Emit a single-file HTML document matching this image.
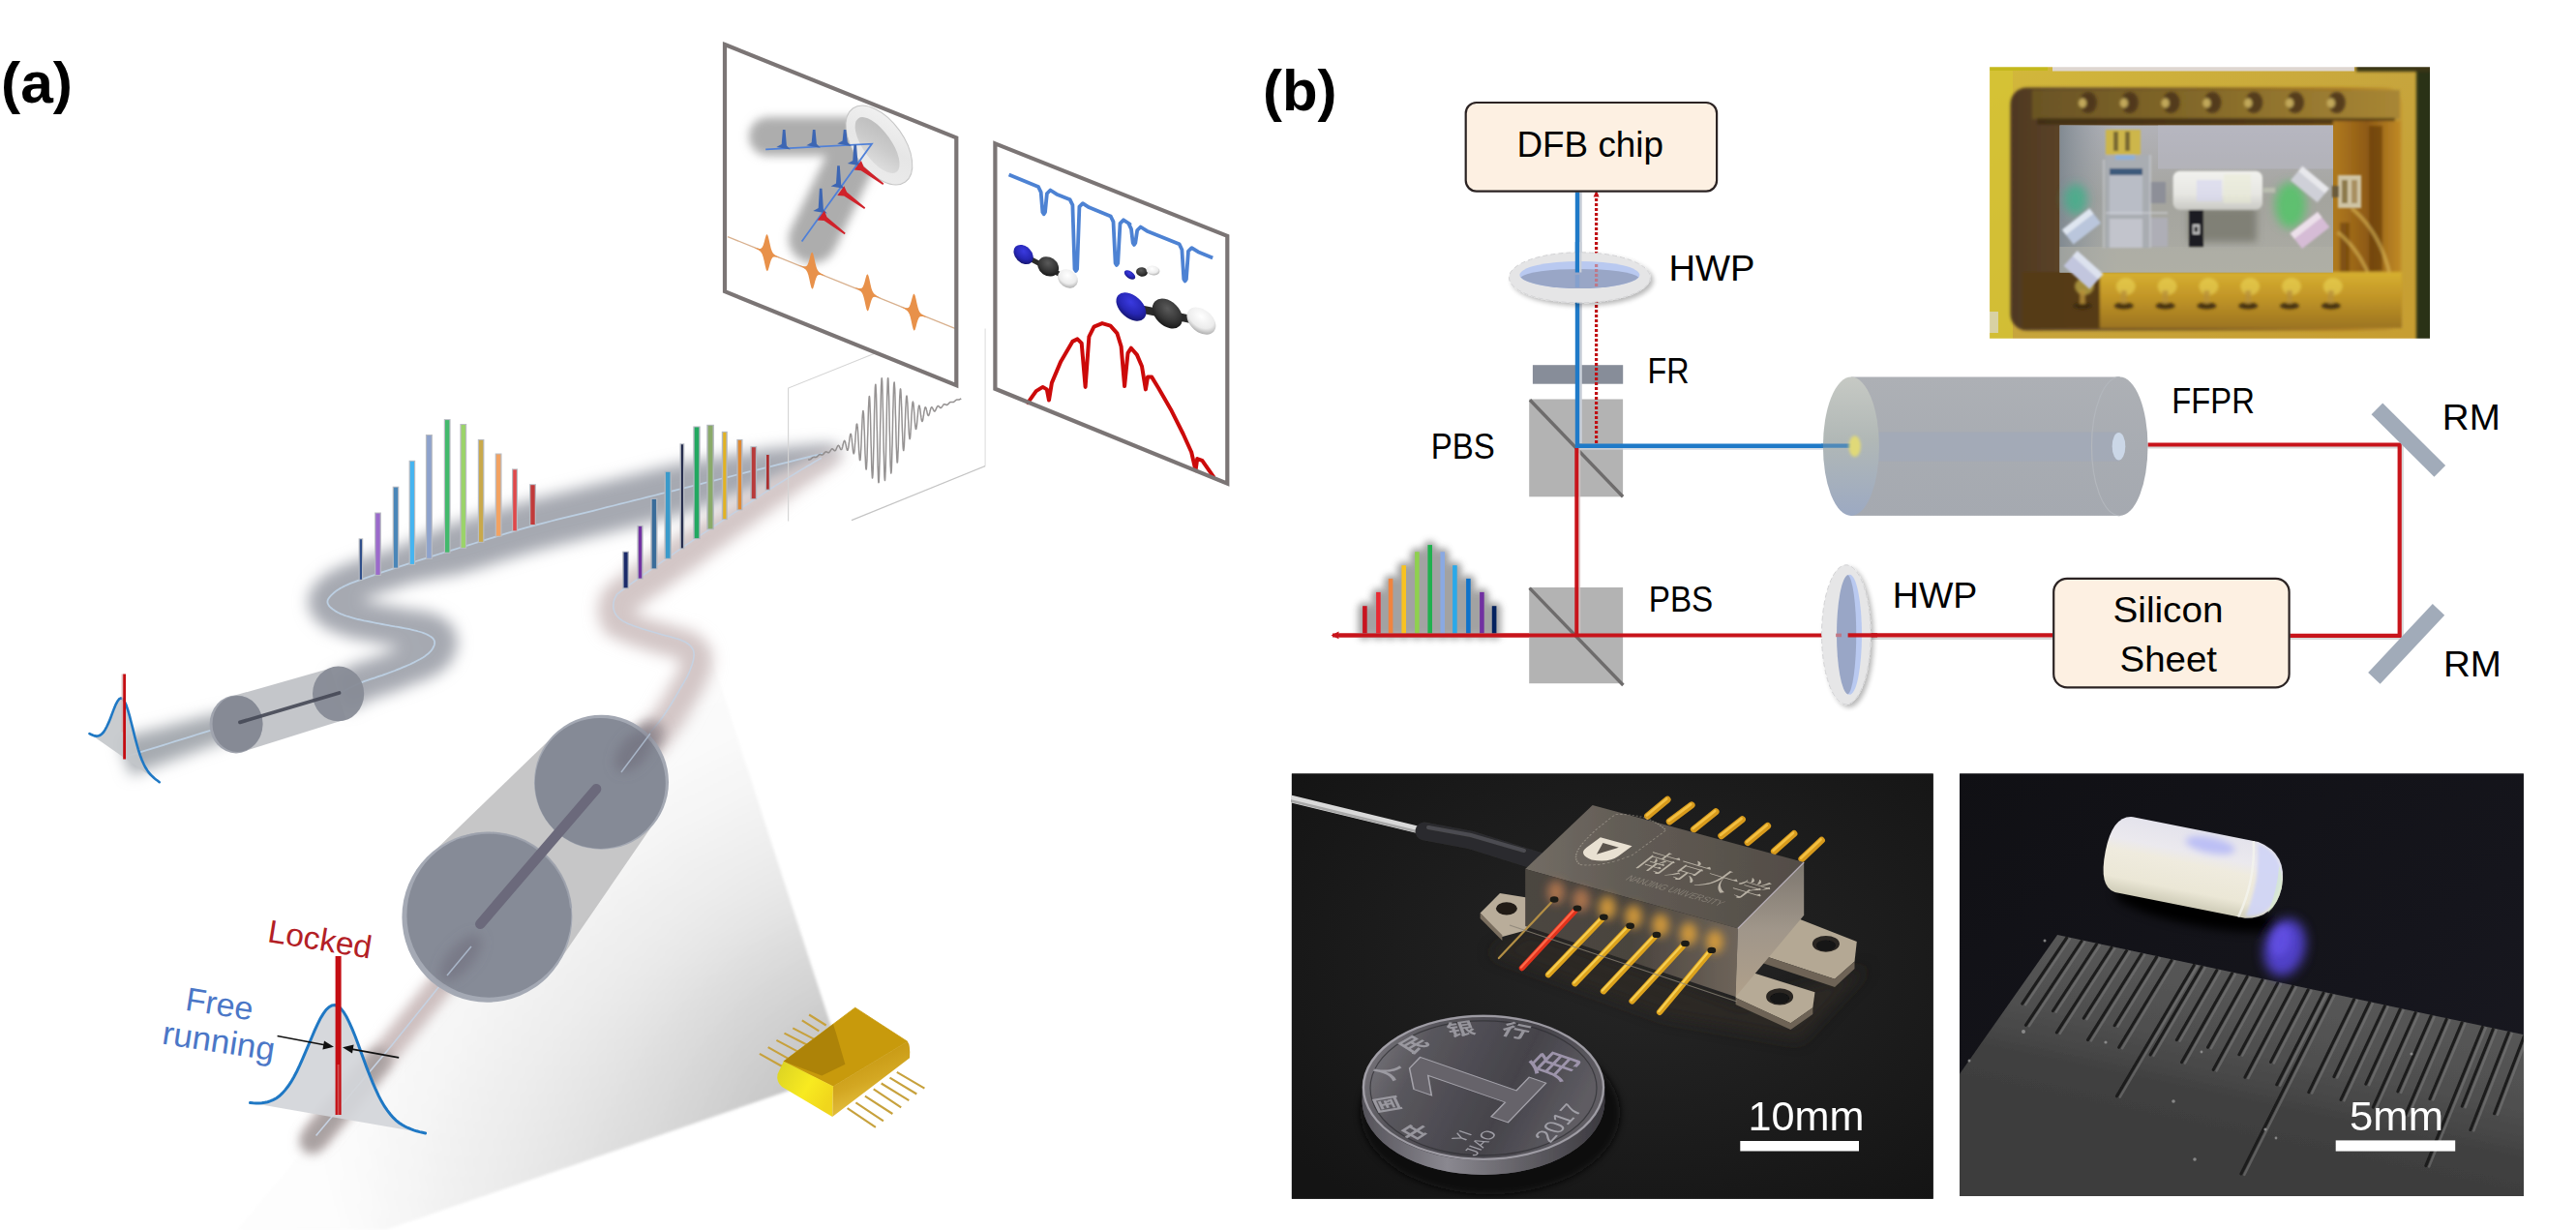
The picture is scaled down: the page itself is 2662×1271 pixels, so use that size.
<!DOCTYPE html>
<html lang="en"><head><meta charset="utf-8"><title>Figure</title>
<style>html,body{margin:0;padding:0;background:#fff;overflow:hidden}svg{display:block}text{white-space:pre}</style>
</head><body>
<svg width="2662" height="1271" viewBox="0 0 2662 1271">
<defs>
<radialGradient id="coneG" gradientUnits="userSpaceOnUse" cx="880" cy="1085" r="560"><stop offset="0" stop-color="#c0c0c0"/><stop offset="0.2" stop-color="#c9c9c9"/><stop offset="0.4" stop-color="#d7d7d7"/><stop offset="0.6" stop-color="#e3e3e3"/><stop offset="0.8" stop-color="#efefef"/><stop offset="1" stop-color="#fcfcfc"/></radialGradient>
<linearGradient id="coneW" gradientUnits="userSpaceOnUse" x1="640" y1="820" x2="800" y2="1140"><stop offset="0" stop-color="#fff" stop-opacity="0.8"/><stop offset="0.5" stop-color="#fff" stop-opacity="0.45"/><stop offset="1" stop-color="#fff" stop-opacity="0"/></linearGradient>
<linearGradient id="chipL" x1="0" y1="0" x2="1" y2="0.6"><stop offset="0" stop-color="#d9d224"/><stop offset="0.6" stop-color="#f8ea20"/><stop offset="1" stop-color="#f0d61c"/></linearGradient>
<linearGradient id="chipR" x1="0.3" y1="0" x2="0.7" y2="1"><stop offset="0" stop-color="#c0900a"/><stop offset="0.5" stop-color="#d3a722"/><stop offset="1" stop-color="#f0d050"/></linearGradient>
<linearGradient id="torG" x1="0" y1="0" x2="1" y2="1"><stop offset="0" stop-color="#f4f4f4"/><stop offset="0.5" stop-color="#e6e6e6"/><stop offset="1" stop-color="#ededed"/></linearGradient>
<linearGradient id="torI" x1="0" y1="0" x2="1" y2="1"><stop offset="0" stop-color="#bababa"/><stop offset="0.5" stop-color="#cbcbcb"/><stop offset="1" stop-color="#e4e4e4"/></linearGradient>
<radialGradient id="mB" cx="0.4" cy="0.35" r="0.7"><stop offset="0" stop-color="#3a3adf"/><stop offset="0.6" stop-color="#2626b4"/><stop offset="1" stop-color="#14146c"/></radialGradient>
<radialGradient id="mK" cx="0.4" cy="0.35" r="0.7"><stop offset="0" stop-color="#5a5a5a"/><stop offset="0.6" stop-color="#363636"/><stop offset="1" stop-color="#161616"/></radialGradient>
<radialGradient id="mW" cx="0.4" cy="0.35" r="0.75"><stop offset="0" stop-color="#ffffff"/><stop offset="0.6" stop-color="#ececec"/><stop offset="1" stop-color="#9c9c9c"/></radialGradient>
<linearGradient id="ffB" x1="0" y1="0" x2="0" y2="1"><stop offset="0" stop-color="#adb0b5"/><stop offset="0.5" stop-color="#a8acb2"/><stop offset="1" stop-color="#a5a9b0"/></linearGradient>
<linearGradient id="ffL" x1="0" y1="0" x2="0" y2="1"><stop offset="0" stop-color="#c6c9c4"/><stop offset="0.45" stop-color="#b1b8b6"/><stop offset="1" stop-color="#9ca9c2"/></linearGradient>
<filter id="ds" x="-0.2" y="-0.3" width="1.4" height="1.7"><feGaussianBlur in="SourceAlpha" stdDeviation="2.5" result="b"/><feOffset in="b" dx="2.5" dy="3" result="o"/><feComponentTransfer in="o" result="s"><feFuncA type="linear" slope="0.28"/></feComponentTransfer><feMerge><feMergeNode in="s"/><feMergeNode in="SourceGraphic"/></feMerge></filter>
<filter id="bl13" x="-0.1" y="-0.1" width="1.2" height="1.2"><feGaussianBlur stdDeviation="1.2"/></filter><filter id="bl1" x="-0.1" y="-0.1" width="1.2" height="1.2"><feGaussianBlur stdDeviation="0.7"/></filter><filter id="bl2" x="-0.2" y="-0.2" width="1.4" height="1.4"><feGaussianBlur stdDeviation="1.6"/></filter><filter id="bl4" x="-0.4" y="-0.4" width="1.8" height="1.8"><feGaussianBlur stdDeviation="3.5"/></filter><filter id="bl5" x="-0.5" y="-0.5" width="2.0" height="2.0"><feGaussianBlur stdDeviation="5"/></filter><filter id="bl6" x="-0.5" y="-0.5" width="2.0" height="2.0"><feGaussianBlur stdDeviation="6"/></filter><filter id="bl7" x="-0.5" y="-0.5" width="2.0" height="2.0"><feGaussianBlur stdDeviation="7.5"/></filter>
<linearGradient id="pgOuter" x1="0" y1="0" x2="1" y2="1"><stop offset="0" stop-color="#d3b93a"/><stop offset="0.5" stop-color="#c7a53c"/><stop offset="1" stop-color="#c79d30"/></linearGradient>
<linearGradient id="pgCav" x1="0" y1="0" x2="1" y2="0"><stop offset="0" stop-color="#4e3820"/><stop offset="0.12" stop-color="#5a4228"/><stop offset="0.5" stop-color="#7a5a24"/><stop offset="0.85" stop-color="#a87822"/><stop offset="1" stop-color="#c49a34"/></linearGradient>
<linearGradient id="pgTop" x1="0" y1="0" x2="1" y2="0"><stop offset="0" stop-color="#6a5424"/><stop offset="0.4" stop-color="#806628"/><stop offset="1" stop-color="#a88634"/></linearGradient>
<linearGradient id="pgRight" x1="0" y1="0" x2="1" y2="0"><stop offset="0" stop-color="#b07a20"/><stop offset="0.5" stop-color="#8e5a14"/><stop offset="1" stop-color="#c08a26"/></linearGradient>
<linearGradient id="pgBot" x1="0" y1="0" x2="0" y2="1"><stop offset="0" stop-color="#d6b030"/><stop offset="0.4" stop-color="#c49828"/><stop offset="1" stop-color="#9c7420"/></linearGradient>
<linearGradient id="pgPlat" x1="0" y1="0" x2="0" y2="1"><stop offset="0" stop-color="#b2b2b8"/><stop offset="0.5" stop-color="#a4a49e"/><stop offset="1" stop-color="#acaca4"/></linearGradient>
<linearGradient id="pgPlatL" x1="0" y1="0" x2="1" y2="0"><stop offset="0" stop-color="#7f8890" stop-opacity="0.95"/><stop offset="1" stop-color="#98a0a8" stop-opacity="0"/></linearGradient>
<linearGradient id="pgCyl" x1="0" y1="0" x2="0" y2="1"><stop offset="0" stop-color="#f2f2ee"/><stop offset="0.6" stop-color="#e6e6e2"/><stop offset="1" stop-color="#c9c9c4"/></linearGradient>

<radialGradient id="pbBg" cx="0.55" cy="0.45" r="0.7"><stop offset="0" stop-color="#262626"/><stop offset="1" stop-color="#141414"/></radialGradient>
<linearGradient id="pbTop" x1="0" y1="0" x2="1" y2="0"><stop offset="0" stop-color="#736d65"/><stop offset="0.35" stop-color="#625c55"/><stop offset="1" stop-color="#524c46"/></linearGradient>
<linearGradient id="pbFront" x1="0" y1="0" x2="1" y2="0"><stop offset="0" stop-color="#4c4640"/><stop offset="0.5" stop-color="#4a443e"/><stop offset="1" stop-color="#6e645a"/></linearGradient>
<linearGradient id="pbRight" x1="0" y1="0" x2="0" y2="1"><stop offset="0" stop-color="#7c766e"/><stop offset="0.5" stop-color="#a0968a"/><stop offset="1" stop-color="#b0a08a"/></linearGradient>
<linearGradient id="pbCoin" x1="0" y1="0" x2="1" y2="0.3"><stop offset="0" stop-color="#828086"/><stop offset="0.3" stop-color="#58565c"/><stop offset="0.7" stop-color="#45434a"/><stop offset="1" stop-color="#5e5c62"/></linearGradient>
<linearGradient id="pbEdge" x1="0" y1="0" x2="1" y2="0"><stop offset="0" stop-color="#55535a"/><stop offset="0.35" stop-color="#8a8890"/><stop offset="0.6" stop-color="#6a686e"/><stop offset="1" stop-color="#3a383e"/></linearGradient>

<linearGradient id="pcBg" x1="0" y1="0" x2="1" y2="1"><stop offset="0" stop-color="#101014"/><stop offset="0.6" stop-color="#15151c"/><stop offset="1" stop-color="#1a1a22"/></linearGradient>
<linearGradient id="pcRul" gradientUnits="userSpaceOnUse" x1="2330" y1="1000" x2="2290" y2="1190"><stop offset="0" stop-color="#575757"/><stop offset="0.45" stop-color="#4f4f4f"/><stop offset="0.7" stop-color="#414141"/><stop offset="1" stop-color="#3c3c3c"/></linearGradient>
<linearGradient id="pcCap" x1="0" y1="0" x2="0" y2="1"><stop offset="0" stop-color="#e4e3ec"/><stop offset="0.3" stop-color="#ebe9ee"/><stop offset="0.45" stop-color="#efebde"/><stop offset="0.8" stop-color="#ebe7d6"/><stop offset="1" stop-color="#cfccb8"/></linearGradient>
</defs>
<rect width="2662" height="1271" fill="#fff"/>
<g filter="url(#bl2)"><polygon points="731.6,670.8 862,1070 866,1100 813.7,1127.5 398,1271 245,1271 326.6,1173.6 503.4,947.7 621.5,808.2 677,751 705,708 717,682" fill="url(#coneG)"/><polygon points="731.6,670.8 862,1070 866,1100 813.7,1127.5 398,1271 245,1271 326.6,1173.6 503.4,947.7 621.5,808.2 677,751 705,708 717,682" fill="url(#coneW)"/></g>
<g filter="url(#bl7)"><polygon points="867.9,463.5 866.3,461.9 864.6,461.1 862.8,460.4 860.7,460 858.5,459.6 856.2,459.3 854,459.2 851.7,459 849.6,459 847.5,458.9 845.9,459.1 844.6,459.2 843.6,459.3 842.6,459.4 841.5,459.5 840.2,459.6 838.4,459.8 835.9,460 832.7,460.3 828.6,460.7 823.4,461.1 817.2,461.7 810.3,462.3 802.7,463 794.7,463.8 786.6,465.1 778.4,466.5 770.3,467.8 762.4,469.2 754.9,470.4 747.7,471.6 740.5,472.9 733.3,474.1 726.2,475.3 719.1,476.5 712,477.7 704.8,478.9 697.7,480.1 690.7,481.5 683.7,483.3 676.7,485 669.7,486.8 662.7,488.5 655.8,490.3 648.8,492 641.8,493.7 634.8,495.5 627.8,497.3 620.7,499 613.7,500.8 606.6,502.5 599.4,504.3 592.1,506.1 584.8,507.9 577.5,509.7 570.2,511.5 562.9,513.3 555.8,515.2 548.8,517 542,518.8 535.4,520.6 529.1,522.4 522.9,524.2 516.9,526 511.1,527.8 505.4,529.6 499.7,531.3 494,533.1 488.2,534.8 482.4,536.6 476.5,538.4 470.5,540.3 464.4,542.1 458.5,544.4 452.6,547 446.7,549.5 440.9,552.1 435.1,554.7 429.3,557.2 423.6,559.8 417.8,562.4 411.8,564.8 405.5,566.9 399.2,568.9 393.1,570.9 387,572.9 381.3,574.8 375.9,576.7 370.9,578.4 366.4,580 362.6,581.4 359.2,582.6 356.2,583.8 353.4,584.9 350.8,586 348.3,587.1 345.9,588.3 343.6,589.5 341.4,590.8 339.2,592.2 336.9,593.7 334.7,595.3 332.4,597 330.3,598.9 328.1,600.9 326.1,603.2 324,605.7 322,608.8 320.2,612.6 318.8,617.5 318.5,623 319.3,628.3 320.9,632.7 322.9,636.3 325,639.1 327.1,641.4 329.2,643.3 331.2,644.9 333.1,646.4 335,647.7 337.2,649.1 339.6,650.4 341.9,651.6 344.3,652.6 346.7,653.6 349.1,654.6 351.6,655.4 354.2,656.3 356.8,657.1 359.5,657.9 362.5,658.7 365.6,659.4 368.8,660.2 372,660.8 375.2,661.5 378.5,662.2 381.8,662.8 385,663.4 388.1,664 391.2,664.6 394.4,665.3 397.8,665.9 401.2,666.5 404.5,667.1 407.8,667.6 411,668.2 413.9,668.7 416.7,669.3 419.1,670.2 421.2,671 423.1,671.7 425,672.5 426.6,673.2 428,673.8 429.2,674.4 430.1,674.9 430.9,675.4 431.4,675.8 431.7,676.1 431.9,676.3 432,676.6 432,676.7 431.6,676.6 431,676.1 430,675.3 428.8,673.9 427.6,671.9 426.6,669.4 425.9,666.7 425.7,664 425.9,661.8 426.2,660.2 426.6,659.1 426.9,658.4 427.2,658 427.4,657.8 427.5,657.8 427.6,657.9 427.6,658 427.6,658.2 427.4,658.6 427,659.1 426.4,659.7 425.6,660.5 424.5,661.4 423.3,662.4 421.9,663.4 420.3,664.5 418.6,665.6 416.9,666.8 415.1,667.9 413.1,669.1 410.9,670.2 408.5,671.2 406,672.2 403.4,673.3 400.8,674.3 398.1,675.3 395.5,676.3 393,677.3 390.7,678.1 388.5,678.9 386.2,679.6 383.8,680.4 381.3,681.2 378.7,682.1 376,683 373.2,684 370.3,685 367.3,686.2 364.3,687.5 361.2,689 358,690.4 354.9,691.9 351.9,693.4 349,694.8 346.4,696.2 344.1,697.3 342.2,698.2 340.8,698.9 358.4,734.9 360,734.1 362,733.1 364.3,731.9 366.9,730.6 369.6,729.3 372.4,727.9 375.2,726.5 377.9,725.3 380.4,724.1 382.7,723.2 384.7,722.4 386.8,721.6 389,720.8 391.3,720 393.6,719.3 396.1,718.5 398.7,717.6 401.4,716.7 404.2,715.8 407,714.7 409.7,713.7 412.4,712.7 415.2,711.6 418,710.5 420.9,709.4 423.7,708.2 426.6,707 429.4,706 432.2,705 434.9,704 437.4,703.1 439.8,702.2 442.2,701.2 444.5,700.1 446.9,699 449.2,697.9 451.5,696.6 453.8,695.1 456.1,693.6 458.4,691.8 460.6,689.8 462.7,687.7 464.6,685.5 466.3,683.1 467.9,680.6 469.4,677.9 470.6,675 471.7,671.8 472.4,668.1 472.7,664 472.3,659.5 471.3,655 469.6,651 467.4,647.5 465.1,644.6 462.7,642.3 460.5,640.4 458.3,638.9 456.2,637.7 454.1,636.7 451.9,635.6 449.6,634.7 447.4,633.9 445.1,633.3 442.8,632.7 440.5,632.2 438.2,631.8 435.8,631.4 433.3,631 430.6,630.6 427.7,630.3 424.5,630 421.3,629.4 418,628.8 414.7,628.2 411.4,627.7 408.1,627.1 404.9,626.5 401.8,626 398.8,625.4 395.7,624.8 392.5,624.1 389.4,623.5 386.2,622.9 383.2,622.3 380.2,621.7 377.4,621.1 374.8,620.5 372.5,619.9 370.3,619.3 368.3,618.7 366.3,618.1 364.5,617.5 362.8,617 361.4,616.4 360.1,615.9 359,615.4 358.2,615 357.5,614.6 357,614.3 356.3,613.8 355.8,613.4 355.5,613.2 355.4,613.1 355.7,613.4 356.3,614.2 357.1,615.7 357.9,618 358.4,621.2 358.2,624.5 357.5,627.1 356.8,628.6 356.4,629.2 356.3,629.4 356.5,629.1 357,628.6 357.7,628 358.6,627.3 359.7,626.6 360.8,625.8 362,625.1 363.1,624.4 364.2,623.9 365.3,623.3 366.7,622.7 368.5,621.9 370.6,621.1 373.2,620.1 376.4,618.9 380,617.6 384.1,616.1 388.8,614.5 394.1,612.7 399.7,610.9 405.5,608.9 411.6,606.9 417.8,604.9 424,602.9 430.3,601.4 436.4,600.2 442.5,599 448.6,597.9 454.7,596.7 460.9,595.5 467.1,594.4 473.4,593.2 479.6,591.8 485.6,590 491.6,588.2 497.6,586.4 503.5,584.6 509.3,582.8 515,581 520.7,579.3 526.3,577.5 531.9,575.8 537.7,574.1 543.5,572.4 549.5,570.7 555.6,569 562.1,567.3 568.8,565.5 575.7,563.7 582.7,562 589.9,560.2 597.2,558.4 604.5,556.6 611.8,554.8 619.1,553 626.3,551.2 633.4,549.5 640.4,547.7 647.4,545.9 654.4,544.2 661.4,542.4 668.4,540.7 675.3,539 682.3,537.2 689.3,535.5 696.3,533.7 703.3,532 710.2,529.9 717,527.6 723.9,525.3 730.7,523.1 737.6,520.8 744.4,518.5 751.3,516.2 758.2,513.9 765.1,511.6 772.3,509.2 779.9,506.7 787.7,504.1 795.6,501.4 803.4,498.8 810.9,495.8 817.9,492.9 824.3,490.2 830,487.8 834.8,485.7 838.7,484.1 841.6,482.9 843.9,481.9 845.6,481.2 846.9,480.7 847.9,480.2 848.8,479.8 849.8,479.4 850.9,478.9 852.5,478.3 854.2,477.3 856.1,476.2 858,475 859.9,473.7 861.8,472.4 863.5,471 865.1,469.6 866.5,468.2 867.5,466.6 868.1,464.5" fill="#a6a9b1"/></g>
<g filter="url(#bl7)"><polygon points="240.9,734.7 239.1,735.1 236.8,735.4 234,735.9 230.8,736.4 227.1,737.1 223.1,737.9 218.8,738.8 214.3,739.8 209.5,740.9 204.3,742.2 198.8,743.6 193.1,745.1 187.2,746.7 181.4,748.2 175.5,749.7 169.8,751.2 163.8,752.7 157.3,754.3 150.5,756 143.8,757.7 137.4,759.3 131.6,760.8 126.8,762 123.2,762.9 134.8,801.1 138.3,799.9 143,798.2 148.6,796.2 154.8,794 161.3,791.6 167.9,789.2 174.3,786.9 180.2,784.8 185.8,782.7 191.6,780.6 197.3,778.5 203,776.4 208.4,774.4 213.6,772.5 218.4,770.7 222.7,769.2 226.6,767.9 230.3,766.8 233.9,765.7 237.2,764.8 240.2,763.9 242.8,763.2 245.2,762.6 247.1,762.1" fill="#a6aab0"/></g>
<g filter="url(#bl7)" transform="translate(3,5)"><polygon points="867.8,463.5 866.2,462.7 864.7,462.4 863,462.3 861.1,462.3 859.1,462.5 856.7,462.8 854.1,463.3 851.3,464 848.2,464.9 844.8,466.1 841.3,467.8 837.3,469.6 833,471.7 828.4,473.9 823.6,476.3 818.7,478.7 813.8,481.2 808.9,483.7 804.1,486.1 799.4,488.5 794.9,490.8 790.6,493.2 786.4,495.6 782.3,498 778.1,500.5 773.8,503 769.4,505.6 764.8,508.3 760.1,511.1 755,514.1 749.6,517.3 744,520.7 738.1,524.2 732,527.8 725.8,531.5 719.5,535.3 713.2,539.1 706.8,543 700.2,546.3 694.2,550.4 688.1,554.6 681.7,559 675.1,563.7 668.4,568.3 661.8,573 655.5,577.5 649.6,581.7 644.1,585.6 639.3,589.1 635.4,592 632.3,594.2 630,596 628.1,597.3 626.5,598.6 624.7,600.2 622.4,602.7 620.4,605.8 619.6,607.4 619.5,607.6 619.1,608.3 618.1,610.3 617.1,612.9 616.2,615.5 615.6,618 615.2,620.5 614.9,623 614.8,625.4 614.9,627.8 615.1,630.3 615.4,632.7 615.9,635.2 616.7,637.6 617.6,639.9 618.6,642.2 619.9,644.4 621.2,646.4 622.7,648.3 624.2,650.1 625.8,651.8 627.6,653.4 629.4,654.8 632.9,653.7 634.7,654.9 636.5,656 638.3,657 640.1,657.9 642,658.7 643.9,659.6 645.8,660.4 647.9,661.2 650.2,662.1 652.7,663 655.2,663.8 657.8,664.6 660.5,665.5 663.2,666.3 665.8,667.1 668.4,667.8 670.9,668.6 673.5,669.3 676.1,670.1 678.8,670.9 681.6,671.6 684.3,672.4 686.9,673.1 689.4,673.7 691.7,674.4 693.7,675 695.5,675.5 696.9,676 698.2,676.5 699.3,677 700.1,677.3 700.7,677.6 701,677.8 701.2,677.9 701.3,678 701.4,678 701.5,678.1 701.7,678.4 702,678.6 702,678.7 702,678.6 701.9,678.4 701.6,678 701.4,677.6 701.3,677.1 701.2,676.7 701.1,676.4 701.1,676.3 701.1,676.4 701.1,676.7 701,677.2 700.9,677.9 700.7,678.7 700.5,679.7 700.2,680.8 699.9,681.9 699.5,683.1 699,684.5 698.5,685.9 698,687.2 697.5,688.2 697.1,689.2 696.6,690.3 696,691.5 695.2,693 694.2,694.8 692.9,697 691.3,699.8 689.3,703.2 687.2,706.8 685,710.6 682.7,714.6 680.3,718.7 677.6,722.9 674.8,727.2 671.7,731.6 668.3,736.1 664.7,740.6 660.4,745.6 655.1,751.4 649.1,757.8 642.7,764.3 636.1,771 629.7,777.4 623.7,783.4 618.2,788.8 613.6,793.4 610.1,797 632.9,819.4 636.3,816 640.8,811.5 646.2,806.1 652.3,800 658.9,793.5 665.5,786.7 672.2,779.9 678.5,773.3 684.2,767 689.3,761.2 693.7,755.7 697.6,750.4 701.3,745.2 704.6,740.1 707.6,735.3 710.3,730.8 712.7,726.6 714.9,722.7 716.9,719.3 718.7,716.2 720.5,713.3 722,710.7 723.3,708.3 724.5,706.2 725.5,704.2 726.4,702.2 727.1,700.5 727.8,698.8 728.4,697.2 729,695.5 729.7,693.6 730.4,691.7 731,689.7 731.5,687.7 732,685.7 732.4,683.6 732.7,681.6 733,679.4 733.1,677.2 733.1,674.9 732.9,672.6 732.5,670.2 731.9,667.9 731.1,665.7 730.2,663.5 729.1,661.5 727.9,659.8 726.7,658.2 725.5,656.9 724.3,655.6 723,654.5 721.7,653.3 720.2,652.1 718.6,651 716.9,650 715.2,649.1 713.5,648.3 711.7,647.5 709.9,646.7 707.9,646 705.6,645.2 703.1,644.4 700.5,643.6 697.9,642.9 695.2,642.2 692.6,641.4 689.9,640.7 687.4,640 684.9,639.4 682.5,638.7 680.1,637.9 677.5,637.2 674.9,636.4 672.4,635.6 669.9,634.9 667.5,634.1 665.2,633.4 663.1,632.7 661.2,632 659.5,631.4 657.9,630.8 656.4,630.1 655.1,629.6 654,629.1 653.1,628.6 652.3,628.2 651.7,627.8 651.2,627.5 652.7,624.8 652.4,624.6 652.3,624.5 652.2,624.4 652.2,624.4 652.2,624.4 652.3,624.6 652.4,624.8 652.5,625 652.6,625.3 652.7,625.6 652.8,625.9 652.8,626.1 652.8,626.1 652.8,626 652.8,625.9 652.8,625.8 652.9,625.7 652.9,625.7 652.8,625.8 652.7,626 652.9,625.7 653.5,624.5 654,623.4 653.7,624 652.2,626.2 650.8,627.8 650.5,628.1 651.1,627.6 652.6,626.5 654.8,624.8 657.8,622.6 661.7,619.8 666.3,616.4 671.7,612.6 677.5,608.4 683.8,604 690.3,599.4 696.9,594.8 703.4,590.2 709.8,585.8 715.8,581.6 721.6,577.6 727,572.7 732.9,568.3 738.7,563.9 744.6,559.6 750.3,555.3 756,551.1 761.5,547.1 766.8,543.2 771.8,539.5 776.5,536 781,532.7 785.3,529.5 789.3,526.5 793.3,523.7 797.1,520.8 801,518.1 804.8,515.3 808.7,512.5 812.6,509.5 816.7,506.4 821,503.2 825.3,500 829.7,496.8 834.1,493.6 838.3,490.5 842.4,487.6 846.2,484.9 849.7,482.4 852.8,480.3 855.4,478.3 857.6,476.3 859.7,474.6 861.5,473 863.1,471.5 864.5,470.2 865.8,468.9 866.9,467.6 867.7,466.2 868.2,464.5" fill="#d3c6c6"/></g>
<g filter="url(#bl6)"><path d="M503.4 947.7 L485.5 980 L405 1080 L326.6 1173.6" stroke="#cdbfbf" stroke-width="26" fill="none" stroke-linecap="round"/></g>
<g filter="url(#bl6)"><path d="M392 1095 L322 1180" stroke="#a8a0a0" stroke-width="24" fill="none" stroke-linecap="round"/></g>
<path d="M850 468.6 L848.4 469 L847.2 469.3 L846.2 469.6 L845.3 469.8 L844.2 470.1 L842.9 470.4 L841.1 470.8 L838.8 471.4 L835.7 472.2 L831.7 473.2 L826.7 474.4 L820.8 475.9 L814.1 477.6 L806.8 479.4 L799.1 481.3 L791.1 483.3 L783.1 485.3 L775.1 487.2 L767.3 489.2 L760 491 L752.9 492.8 L745.9 494.5 L738.9 496.3 L731.9 498 L724.9 499.8 L717.9 501.5 L710.9 503.3 L704 505 L697 506.8 L690 508.5 L683 510.2 L676 512 L669 513.7 L662.1 515.5 L655.1 517.2 L648.1 519 L641.1 520.7 L634.1 522.5 L627 524.2 L620 526 L612.9 527.8 L605.6 529.6 L598.3 531.4 L591 533.1 L583.7 534.9 L576.4 536.7 L569.3 538.5 L562.3 540.3 L555.4 542.1 L548.8 543.9 L542.4 545.7 L536.3 547.4 L530.3 549.2 L524.4 550.9 L518.7 552.7 L513 554.4 L507.3 556.2 L501.6 557.9 L495.9 559.7 L490 561.5 L484 563.3 L478 565.1 L472 567 L465.9 568.8 L459.9 570.7 L453.8 572.5 L447.8 574.4 L441.8 576.3 L435.9 578.1 L430 580 L424 581.9 L417.9 583.9 L411.7 585.9 L405.4 587.9 L399.3 589.9 L393.3 591.9 L387.7 593.8 L382.4 595.6 L377.5 597.3 L373.2 598.8 L369.5 600.2 L366.2 601.4 L363.4 602.4 L360.9 603.4 L358.8 604.3 L356.8 605.2 L355 606.1 L353.4 607 L351.7 607.9 L350 609 L348.3 610.1 L346.6 611.3 L345.1 612.5 L343.6 613.8 L342.3 615 L341.2 616.3 L340.2 617.5 L339.4 618.7 L338.8 619.9 L338.5 621 L338.4 622.1 L338.6 623.2 L339 624.2 L339.6 625.3 L340.3 626.3 L341.3 627.3 L342.3 628.2 L343.5 629.2 L344.7 630.1 L346 631 L347.4 631.9 L348.9 632.7 L350.5 633.5 L352.2 634.3 L354 635 L356 635.8 L358 636.5 L360.2 637.2 L362.5 637.9 L364.9 638.6 L367.5 639.3 L370.2 640 L373.1 640.6 L376.1 641.3 L379.2 641.9 L382.4 642.5 L385.6 643.2 L388.7 643.8 L391.9 644.4 L395 645 L398.1 645.6 L401.3 646.2 L404.6 646.8 L408 647.4 L411.3 647.9 L414.5 648.5 L417.6 649.1 L420.6 649.7 L423.4 650.2 L425.9 650.8 L428.2 651.4 L430.4 651.9 L432.4 652.5 L434.3 653 L436 653.5 L437.6 654.1 L439.1 654.7 L440.5 655.2 L441.8 655.9 L443 656.5 L444.1 657.2 L445.1 657.8 L446.1 658.5 L446.9 659.2 L447.6 659.9 L448.1 660.7 L448.6 661.4 L448.9 662.2 L449.1 663.1 L449.2 664 L449.1 665 L448.9 666 L448.6 667.1 L448.1 668.2 L447.6 669.3 L446.9 670.5 L446.1 671.6 L445.1 672.8 L444.1 673.9 L443 675 L441.8 676.1 L440.4 677.1 L438.9 678.2 L437.4 679.2 L435.7 680.2 L433.9 681.3 L432 682.3 L430.1 683.3 L428 684.4 L425.9 685.4 L423.7 686.5 L421.3 687.5 L418.7 688.6 L416.1 689.7 L413.4 690.8 L410.7 691.9 L408 693 L405.3 694 L402.6 695 L400 696 L397.5 696.9 L394.9 697.8 L392.4 698.6 L390 699.4 L387.5 700.3 L385 701.1 L382.5 701.9 L380 702.8 L377.5 703.7 L375 704.7 L372.4 705.8 L369.5 707.1 L366.6 708.5 L363.6 709.9 L360.7 711.3 L358 712.7 L355.4 714 L353.1 715.2 L351.1 716.2 L349.6 716.9" stroke="#bccfe2" stroke-width="1.8" fill="none"/>
<path d="M244 748.4 L242.2 748.8 L239.8 749.3 L237.1 749.9 L234 750.6 L230.5 751.4 L226.7 752.3 L222.7 753.3 L218.5 754.5 L213.9 755.8 L208.9 757.3 L203.6 759 L198 760.8 L192.3 762.6 L186.5 764.4 L180.7 766.2 L175 768 L169.1 769.8 L162.6 771.8 L155.9 773.8 L149.3 775.8 L143 777.8 L137.3 779.5 L132.6 780.9 L129 782" stroke="#bccfe2" stroke-width="1.8" fill="none"/>
<path d="M848.8 473.2 L845.5 475.1 L841.7 477.3 L837.7 479.7 L833.4 482.2 L828.9 484.9 L824.2 487.7 L819.6 490.6 L814.9 493.4 L810.4 496.3 L806 499 L801.8 501.6 L797.7 504.2 L793.7 506.8 L789.7 509.4 L785.7 512.1 L781.6 514.8 L777.3 517.6 L772.9 520.5 L768.3 523.5 L763.4 526.8 L758.2 530.2 L752.7 533.9 L747 537.7 L741.2 541.6 L735.2 545.6 L729.1 549.6 L723 553.7 L716.9 557.8 L710.9 561.9 L705 566 L698.9 570.2 L692.6 574.6 L686 579.2 L679.3 583.9 L672.8 588.5 L666.5 593 L660.6 597.2 L655.2 601 L650.5 604.4 L646.6 607.3 L643.6 609.5 L641.3 611.2 L639.6 612.5 L638.5 613.3 L637.8 614 L637.3 614.4 L637 614.9 L636.8 615.4 L636.5 616.1 L636 617 L635.4 618.1 L634.9 619.3 L634.5 620.6 L634.2 621.9 L634 623.1 L633.9 624.4 L633.8 625.7 L633.8 627 L633.9 628.2 L634.1 629.3 L634.3 630.4 L634.7 631.4 L635.1 632.5 L635.5 633.5 L636.1 634.5 L636.7 635.4 L637.4 636.3 L638.2 637.3 L639.1 638.1 L640 639 L641 639.8 L642.1 640.6 L643.2 641.4 L644.4 642.1 L645.7 642.8 L647.1 643.5 L648.6 644.2 L650.2 644.9 L651.9 645.6 L653.7 646.3 L655.7 647.1 L657.9 647.8 L660.2 648.6 L662.7 649.4 L665.2 650.2 L667.8 651 L670.4 651.7 L673 652.5 L675.5 653.3 L678 654 L680.5 654.7 L683.1 655.5 L685.7 656.2 L688.4 656.9 L691.1 657.6 L693.6 658.3 L696.1 659 L698.4 659.7 L700.5 660.3 L702.4 661 L704 661.6 L705.5 662.2 L706.8 662.8 L707.9 663.3 L709 663.9 L709.9 664.5 L710.7 665 L711.5 665.6 L712.3 666.3 L713 667 L713.7 667.7 L714.4 668.5 L714.9 669.2 L715.5 670 L715.9 670.8 L716.3 671.6 L716.6 672.5 L716.8 673.5 L717 674.5 L717.1 675.6 L717.1 676.8 L717 678.1 L716.9 679.4 L716.7 680.8 L716.4 682.2 L716 683.7 L715.6 685.2 L715.1 686.8 L714.6 688.4 L714 690 L713.4 691.5 L712.9 693 L712.3 694.4 L711.7 695.7 L711.1 697.2 L710.3 698.8 L709.3 700.7 L708.1 702.7 L706.7 705.2 L705 708 L703.1 711.2 L701.1 714.8 L698.9 718.6 L696.5 722.7 L693.9 727 L691.1 731.5 L688 736.2 L684.7 741 L681 745.9 L677 750.9 L672.3 756.3 L666.8 762.4 L660.6 768.8 L654.1 775.5 L647.5 782.2 L641 788.7 L634.9 794.8 L629.5 800.2 L624.9 804.7 L621.5 808.2" stroke="#c6d2e2" stroke-width="1.6" fill="none"/>
<path d="M503.4 947.7 L485.5 980 L405 1080 L326.6 1173.6" stroke="#c6d2e2" stroke-width="1.6" fill="none"/>
<rect x="370.6" y="556.3" width="4.6" height="43.5" fill="#b9bcc2"/>
<rect x="371.8" y="557.3" width="2.2" height="41.5" fill="#2f4f8a"/>
<rect x="387.1" y="529.5" width="6.8" height="65.4" fill="#b9bcc2"/>
<rect x="388.3" y="530.5" width="4.4" height="63.4" fill="#9b6acb"/>
<rect x="405.7" y="502.7" width="6.6" height="84.9" fill="#b9bcc2"/>
<rect x="406.9" y="503.7" width="4.2" height="82.9" fill="#4a86b8"/>
<rect x="422.6" y="475.8" width="6.6" height="108.1" fill="#b9bcc2"/>
<rect x="423.8" y="476.8" width="4.2" height="106.1" fill="#46b4f0"/>
<rect x="439.9" y="449" width="7" height="128.8" fill="#b9bcc2"/>
<rect x="441.1" y="450" width="4.6" height="126.8" fill="#8ea2cc"/>
<rect x="458.8" y="433.1" width="6.8" height="138.6" fill="#b9bcc2"/>
<rect x="460" y="434.1" width="4.4" height="136.6" fill="#43b96c"/>
<rect x="475.4" y="438" width="6.8" height="128.9" fill="#b9bcc2"/>
<rect x="476.6" y="439" width="4.4" height="126.9" fill="#9bd36a"/>
<rect x="493.8" y="453.9" width="6.6" height="106.9" fill="#b9bcc2"/>
<rect x="495" y="454.9" width="4.2" height="104.9" fill="#c9a94b"/>
<rect x="511.7" y="468.5" width="6.8" height="86.2" fill="#b9bcc2"/>
<rect x="512.9" y="469.5" width="4.4" height="84.2" fill="#f2a262"/>
<rect x="529" y="484.4" width="6" height="64.9" fill="#b9bcc2"/>
<rect x="530.2" y="485.4" width="3.6" height="62.9" fill="#e0484a"/>
<rect x="547.1" y="500.2" width="6.8" height="42.8" fill="#b9bcc2"/>
<rect x="548.3" y="501.2" width="4.4" height="40.8" fill="#c23a3a"/>
<rect x="643.2" y="569.7" width="6.8" height="38.6" fill="#b4b8c0"/>
<rect x="644.6" y="570.7" width="4" height="36.6" fill="#1b2b6a"/>
<rect x="658.4" y="542.9" width="6.2" height="55.7" fill="#b4b8c0"/>
<rect x="659.8" y="543.9" width="3.4" height="53.7" fill="#7232a2"/>
<rect x="672.3" y="514.9" width="7.2" height="73.4" fill="#b4b8c0"/>
<rect x="673.7" y="515.9" width="4.4" height="71.4" fill="#3a6c9a"/>
<rect x="686.5" y="486.8" width="7.4" height="91" fill="#b4b8c0"/>
<rect x="687.9" y="487.8" width="4.6" height="89" fill="#3a9aca"/>
<rect x="702.5" y="458.3" width="4.8" height="109" fill="#b4b8c0"/>
<rect x="703.9" y="459.3" width="2" height="107" fill="#1e2648"/>
<rect x="716.3" y="440.5" width="7.4" height="116.6" fill="#b4b8c0"/>
<rect x="717.7" y="441.5" width="4.6" height="114.6" fill="#22a860"/>
<rect x="730.3" y="438.8" width="7.6" height="108.5" fill="#b4b8c0"/>
<rect x="731.7" y="439.8" width="4.8" height="106.5" fill="#8aaa6a"/>
<rect x="745.8" y="445.8" width="6" height="91.3" fill="#b4b8c0"/>
<rect x="747.2" y="446.8" width="3.2" height="89.3" fill="#e2b222"/>
<rect x="761.3" y="453.9" width="6.2" height="73.4" fill="#b4b8c0"/>
<rect x="762.7" y="454.9" width="3.4" height="71.4" fill="#e08a32"/>
<rect x="775.4" y="461.2" width="6.8" height="54.9" fill="#b4b8c0"/>
<rect x="776.8" y="462.2" width="4" height="52.9" fill="#b83a3a"/>
<rect x="790.7" y="469" width="5.4" height="37.6" fill="#b4b8c0"/>
<rect x="792.1" y="470" width="2.6" height="35.6" fill="#aa2a2a"/>
<g>
<polygon points="252.3,776.2 357.5,743.3 341.7,690.5 235.7,720.6" fill="#bfc1c5" fill-opacity="0.92"/>
<ellipse cx="349.6" cy="716.9" rx="26.6" ry="28.4" fill="#878b96" fill-opacity="0.95"/>
<ellipse cx="244" cy="748.4" rx="27.4" ry="30" fill="#a0a4ae"/>
<ellipse cx="245.5" cy="747.9" rx="26" ry="29" fill="#868a95"/>
<path d="M248 746.4 L350.5 716" stroke="#474a57" stroke-width="3.8" stroke-linecap="round" fill="none" stroke-opacity="0.92"/>
</g>
<g filter="url(#bl6)"><ellipse cx="668" cy="764" rx="16" ry="22" transform="rotate(40 668 764)" fill="#8a8288" fill-opacity="0.7"/></g>
<polygon points="570.2,1004.2 674.2,852.8 568.8,763.6 436.6,891.2" fill="#c2c2c3" fill-opacity="0.93"/>
<circle cx="621.5" cy="808.2" r="69.5" fill="#a3a8b3"/>
<circle cx="620.3" cy="809.4" r="67.5" fill="#858a96"/>
<g filter="url(#bl6)"><ellipse cx="655" cy="776" rx="14" ry="26" transform="rotate(40 655 776)" fill="#6c6a78" fill-opacity="0.55"/></g>
<path d="M642 798 L672 758" stroke="#a9b6c8" stroke-width="1.5" fill="none"/>
<circle cx="503.4" cy="947.7" r="88" fill="#a4a9b4"/>
<circle cx="505.4" cy="945.7" r="85" fill="#868b97"/>
<path d="M476.3 865.8 A85 85 0 0 1 590.1 938.3" stroke="#9da2ad" stroke-width="2.2" fill="none" opacity="0.9"/>
<g filter="url(#bl6)"><ellipse cx="476" cy="990" rx="13" ry="30" transform="rotate(40 476 990)" fill="#6c6a78" fill-opacity="0.5"/></g>
<path d="M487 978 L462 1008" stroke="#a9b6c8" stroke-width="1.5" fill="none"/>
<path d="M496.3 954.8 L616.1 815.3" stroke="#6b697b" stroke-width="10.5" stroke-linecap="round" fill="none"/>
<polygon points="258.5,1139.6 261.5,1139.8 264.5,1139.9 267.6,1139.9 270.6,1139.7 273.6,1139.3 276.6,1138.7 279.6,1137.7 282.6,1136.4 285.7,1134.7 288.7,1132.5 291.7,1129.7 294.7,1126.4 297.7,1122.5 300.8,1117.9 303.8,1112.7 306.8,1107 309.8,1100.7 312.8,1093.9 315.8,1086.9 318.9,1079.7 321.9,1072.5 324.9,1065.4 327.9,1058.8 330.9,1052.8 334,1047.7 337,1043.5 340,1040.6 343,1038.9 346,1038.5 349.1,1039.6 352.1,1042.1 355.1,1045.8 358.1,1050.8 361.1,1056.8 364.1,1063.7 367.2,1071.2 370.2,1079.2 373.2,1087.4 376.2,1095.7 379.2,1103.9 382.3,1111.7 385.3,1119.1 388.3,1126 391.3,1132.4 394.3,1138.1 397.3,1143.2 400.4,1147.6 403.4,1151.5 406.4,1154.9 409.4,1157.8 412.4,1160.2 415.5,1162.3 418.5,1164 421.5,1165.5 424.5,1166.7 427.5,1167.8 430.5,1168.8 433.6,1169.6 436.6,1170.3 439.6,1171" fill="#d3d5d9" fill-opacity="0.93"/>
<path d="M258.5 1139.6 L261.5 1139.8 L264.5 1139.9 L267.6 1139.9 L270.6 1139.7 L273.6 1139.3 L276.6 1138.7 L279.6 1137.7 L282.6 1136.4 L285.7 1134.7 L288.7 1132.5 L291.7 1129.7 L294.7 1126.4 L297.7 1122.5 L300.8 1117.9 L303.8 1112.7 L306.8 1107 L309.8 1100.7 L312.8 1093.9 L315.8 1086.9 L318.9 1079.7 L321.9 1072.5 L324.9 1065.4 L327.9 1058.8 L330.9 1052.8 L334 1047.7 L337 1043.5 L340 1040.6 L343 1038.9 L346 1038.5 L349.1 1039.6 L352.1 1042.1 L355.1 1045.8 L358.1 1050.8 L361.1 1056.8 L364.1 1063.7 L367.2 1071.2 L370.2 1079.2 L373.2 1087.4 L376.2 1095.7 L379.2 1103.9 L382.3 1111.7 L385.3 1119.1 L388.3 1126 L391.3 1132.4 L394.3 1138.1 L397.3 1143.2 L400.4 1147.6 L403.4 1151.5 L406.4 1154.9 L409.4 1157.8 L412.4 1160.2 L415.5 1162.3 L418.5 1164 L421.5 1165.5 L424.5 1166.7 L427.5 1167.8 L430.5 1168.8 L433.6 1169.6 L436.6 1170.3 L439.6 1171" stroke="#1f78c4" stroke-width="3" fill="none" stroke-linecap="round"/>
<rect x="346.6" y="988" width="6" height="164" fill="#c40d12"/>
<rect x="348.6" y="1100" width="2" height="52" fill="#d9797c" opacity="0.6"/>
<path d="M286.6 1070.5 L338 1080.3" stroke="#111" stroke-width="1.6" fill="none"/><polygon points="345,1081.7 333.4,1084.6 335,1075.5" fill="#111"/>
<path d="M412.2 1092.9 L361 1083.6" stroke="#111" stroke-width="1.6" fill="none"/><polygon points="354,1082.3 365.6,1079.4 364,1088.5" fill="#111"/>
<text transform="translate(275.6,973) rotate(9.3)" font-family="'Liberation Sans',Arial,sans-serif" font-size="33" fill="#b32025" textLength="108" lengthAdjust="spacingAndGlyphs">Locked</text>
<text transform="translate(190.5,1043.4) rotate(9)" font-family="'Liberation Sans',Arial,sans-serif" font-size="34" fill="#4b77c7" textLength="70" lengthAdjust="spacingAndGlyphs">Free</text>
<text transform="translate(166.5,1078.6) rotate(8.6)" font-family="'Liberation Sans',Arial,sans-serif" font-size="34" fill="#4b77c7" textLength="117" lengthAdjust="spacingAndGlyphs">running</text>
<polygon points="92.5,758.1 94.3,759 96.1,759.8 97.9,760.4 99.7,760.6 101.5,760.5 103.3,759.8 105.1,758.5 106.9,756.6 108.7,753.9 110.5,750.5 112.4,746.4 114.2,741.9 116,737.1 117.8,732.4 119.6,728.1 121.4,724.6 123.2,722.3 125,721.4 126.8,722.2 128.6,724.6 130.4,728.5 132.2,733.8 134,740.2 135.8,747.2 137.6,754.4 139.4,761.7 141.2,768.5 143,774.8 144.8,780.5 146.6,785.3 148.5,789.5 150.3,793 152.1,795.9 153.9,798.4 155.7,800.5 157.5,802.3 159.3,804 161.1,805.5 162.9,806.8 164.7,808.2" fill="#c3c6ca" fill-opacity="0.9"/>
<path d="M92.5 758.1 L94.3 759 L96.1 759.8 L97.9 760.4 L99.7 760.6 L101.5 760.5 L103.3 759.8 L105.1 758.5 L106.9 756.6 L108.7 753.9 L110.5 750.5 L112.4 746.4 L114.2 741.9 L116 737.1 L117.8 732.4 L119.6 728.1 L121.4 724.6 L123.2 722.3 L125 721.4 L126.8 722.2 L128.6 724.6 L130.4 728.5 L132.2 733.8 L134 740.2 L135.8 747.2 L137.6 754.4 L139.4 761.7 L141.2 768.5 L143 774.8 L144.8 780.5 L146.6 785.3 L148.5 789.5 L150.3 793 L152.1 795.9 L153.9 798.4 L155.7 800.5 L157.5 802.3 L159.3 804 L161.1 805.5 L162.9 806.8 L164.7 808.2" stroke="#1f78c4" stroke-width="2.6" fill="none" stroke-linecap="round"/>
<rect x="125.6" y="696.5" width="2" height="60" fill="#d8b0b0" opacity="0.8"/>
<rect x="127.2" y="696.5" width="2.8" height="88" fill="#c40d12"/>
<path d="M784.9 1088.8 L808.3 1102 M793.7 1082.2 L818.5 1096.1 M802.4 1074.9 L827.3 1088.1 M810.5 1067.6 L834.6 1080 M819.3 1062.4 L843.4 1074.9 M828.8 1054.4 L846.3 1065.4 M836.1 1048.5 L853.7 1059.5 M926.8 1107.8 L955.4 1124.6 M919.5 1113.7 L947.3 1130.5 M910.7 1119.5 L939.3 1137.1 M902.7 1125.4 L931.2 1144.4 M893.9 1132.7 L922.4 1151 M884.4 1139.3 L912.9 1158.3 M875.6 1145.1 L904.9 1164.9 " stroke="#c7a13c" stroke-width="2.1" fill="none"/>
<polygon points="883.7,1041.2 937.8,1076.3 861,1122.4 809.8,1096.8" fill="#c89a0c" stroke="#c89a0c" stroke-width="0.8"/>
<polygon points="809.8,1096.8 861,1058.3 864.2,1068.3 873.4,1099.8 849.3,1111.5" fill="#ad8308"/>
<path d="M809.8 1096.8 L861 1122.4 L860.2 1153.9 L808 1123 Q802 1118 803.5 1110 Z" fill="url(#chipL)"/>
<path d="M861 1122.4 L937.8 1076.3 Q941 1080 940 1093.2 L860.2 1153.9 Z" fill="url(#chipR)"/>
<path d="M814.6 538.5 L814.6 401 L967.8 339.5" stroke="#d4d4d4" stroke-width="1.1" fill="none"/>
<path d="M1018.1 339.5 L1018.1 481.6" stroke="#dedede" stroke-width="1.1" fill="none"/>
<path d="M1018.1 481.6 L880 537.6" stroke="#c4c4c4" stroke-width="1.2" fill="none"/>
<path d="M835.1 475 L835.2 475 L835.3 475 L835.4 475 L835.6 475 L835.7 475 L835.8 475 L835.9 475 L836 475 L836.1 475 L836.2 475 L836.3 475 L836.5 474.9 L836.6 474.9 L836.7 474.9 L836.8 474.9 L836.9 474.8 L837 474.8 L837.1 474.8 L837.2 474.7 L837.4 474.6 L837.5 474.6 L837.6 474.5 L837.7 474.4 L837.8 474.4 L837.9 474.3 L838 474.2 L838.1 474.1 L838.3 474 L838.4 473.9 L838.5 473.8 L838.6 473.7 L838.7 473.6 L838.8 473.5 L838.9 473.4 L839.1 473.3 L839.2 473.2 L839.3 473.1 L839.4 473 L839.5 472.9 L839.6 472.9 L839.7 472.8 L839.8 472.7 L840 472.6 L840.1 472.6 L840.2 472.5 L840.3 472.5 L840.4 472.4 L840.5 472.4 L840.6 472.4 L840.7 472.4 L840.9 472.3 L841 472.3 L841.1 472.3 L841.2 472.3 L841.3 472.3 L841.4 472.3 L841.5 472.3 L841.6 472.4 L841.8 472.4 L841.9 472.4 L842 472.4 L842.1 472.4 L842.2 472.4 L842.3 472.5 L842.4 472.5 L842.6 472.5 L842.7 472.5 L842.8 472.5 L842.9 472.5 L843 472.5 L843.1 472.4 L843.2 472.4 L843.3 472.4 L843.5 472.3 L843.6 472.3 L843.7 472.2 L843.8 472.2 L843.9 472.1 L844 472 L844.1 472 L844.2 471.9 L844.4 471.8 L844.5 471.7 L844.6 471.6 L844.7 471.5 L844.8 471.4 L844.9 471.3 L845 471.1 L845.2 471 L845.3 470.9 L845.4 470.8 L845.5 470.7 L845.6 470.6 L845.7 470.5 L845.8 470.4 L845.9 470.3 L846.1 470.2 L846.2 470.1 L846.3 470 L846.4 469.9 L846.5 469.9 L846.6 469.8 L846.7 469.8 L846.8 469.7 L847 469.7 L847.1 469.7 L847.2 469.6 L847.3 469.6 L847.4 469.6 L847.5 469.6 L847.6 469.6 L847.7 469.7 L847.9 469.7 L848 469.7 L848.1 469.7 L848.2 469.8 L848.3 469.8 L848.4 469.8 L848.5 469.9 L848.7 469.9 L848.8 469.9 L848.9 470 L849 470 L849.1 470 L849.2 470 L849.3 470 L849.4 470 L849.6 470 L849.7 470 L849.8 470 L849.9 469.9 L850 469.9 L850.1 469.8 L850.2 469.8 L850.3 469.7 L850.5 469.6 L850.6 469.5 L850.7 469.4 L850.8 469.3 L850.9 469.2 L851 469.1 L851.1 469 L851.2 468.9 L851.4 468.7 L851.5 468.6 L851.6 468.4 L851.7 468.3 L851.8 468.2 L851.9 468 L852 467.9 L852.2 467.8 L852.3 467.7 L852.4 467.5 L852.5 467.4 L852.6 467.3 L852.7 467.2 L852.8 467.1 L852.9 467.1 L853.1 467 L853.2 467 L853.3 466.9 L853.4 466.9 L853.5 466.9 L853.6 466.8 L853.7 466.8 L853.8 466.9 L854 466.9 L854.1 466.9 L854.2 466.9 L854.3 467 L854.4 467 L854.5 467.1 L854.6 467.1 L854.7 467.2 L854.9 467.3 L855 467.3 L855.1 467.4 L855.2 467.5 L855.3 467.5 L855.4 467.6 L855.5 467.6 L855.7 467.6 L855.8 467.7 L855.9 467.7 L856 467.7 L856.1 467.7 L856.2 467.7 L856.3 467.7 L856.4 467.6 L856.6 467.6 L856.7 467.5 L856.8 467.4 L856.9 467.3 L857 467.2 L857.1 467.1 L857.2 467 L857.3 466.8 L857.5 466.7 L857.6 466.5 L857.7 466.4 L857.8 466.2 L857.9 466 L858 465.9 L858.1 465.7 L858.3 465.5 L858.4 465.3 L858.5 465.2 L858.6 465 L858.7 464.8 L858.8 464.7 L858.9 464.5 L859 464.4 L859.2 464.3 L859.3 464.2 L859.4 464.1 L859.5 464 L859.6 463.9 L859.7 463.9 L859.8 463.9 L859.9 463.8 L860.1 463.8 L860.2 463.9 L860.3 463.9 L860.4 463.9 L860.5 464 L860.6 464.1 L860.7 464.2 L860.8 464.3 L861 464.4 L861.1 464.5 L861.2 464.6 L861.3 464.7 L861.4 464.8 L861.5 465 L861.6 465.1 L861.8 465.2 L861.9 465.3 L862 465.4 L862.1 465.5 L862.2 465.6 L862.3 465.6 L862.4 465.7 L862.5 465.7 L862.7 465.7 L862.8 465.7 L862.9 465.7 L863 465.6 L863.1 465.6 L863.2 465.5 L863.3 465.4 L863.4 465.2 L863.6 465.1 L863.7 464.9 L863.8 464.7 L863.9 464.5 L864 464.3 L864.1 464 L864.2 463.8 L864.3 463.5 L864.5 463.3 L864.6 463 L864.7 462.7 L864.8 462.5 L864.9 462.2 L865 462 L865.1 461.7 L865.3 461.5 L865.4 461.3 L865.5 461 L865.6 460.9 L865.7 460.7 L865.8 460.6 L865.9 460.4 L866 460.4 L866.2 460.3 L866.3 460.3 L866.4 460.3 L866.5 460.3 L866.6 460.4 L866.7 460.4 L866.8 460.6 L866.9 460.7 L867.1 460.9 L867.2 461 L867.3 461.2 L867.4 461.5 L867.5 461.7 L867.6 462 L867.7 462.2 L867.8 462.5 L868 462.7 L868.1 463 L868.2 463.2 L868.3 463.5 L868.4 463.7 L868.5 463.9 L868.6 464.1 L868.8 464.3 L868.9 464.4 L869 464.5 L869.1 464.6 L869.2 464.6 L869.3 464.6 L869.4 464.6 L869.5 464.5 L869.7 464.4 L869.8 464.2 L869.9 464 L870 463.8 L870.1 463.5 L870.2 463.2 L870.3 462.8 L870.4 462.5 L870.6 462 L870.7 461.6 L870.8 461.2 L870.9 460.7 L871 460.2 L871.1 459.8 L871.2 459.3 L871.4 458.8 L871.5 458.3 L871.6 457.9 L871.7 457.5 L871.8 457.1 L871.9 456.7 L872 456.4 L872.1 456.1 L872.3 455.9 L872.4 455.7 L872.5 455.5 L872.6 455.5 L872.7 455.4 L872.8 455.5 L872.9 455.5 L873 455.7 L873.2 455.9 L873.3 456.2 L873.4 456.5 L873.5 456.8 L873.6 457.2 L873.7 457.7 L873.8 458.2 L873.9 458.7 L874.1 459.2 L874.2 459.8 L874.3 460.3 L874.4 460.9 L874.5 461.5 L874.6 462 L874.7 462.5 L874.9 463.1 L875 463.5 L875.1 464 L875.2 464.3 L875.3 464.7 L875.4 464.9 L875.5 465.1 L875.6 465.3 L875.8 465.3 L875.9 465.3 L876 465.2 L876.1 465 L876.2 464.7 L876.3 464.4 L876.4 463.9 L876.5 463.4 L876.7 462.8 L876.8 462.2 L876.9 461.5 L877 460.7 L877.1 459.9 L877.2 459.1 L877.3 458.2 L877.4 457.3 L877.6 456.4 L877.7 455.5 L877.8 454.6 L877.9 453.7 L878 452.8 L878.1 452 L878.2 451.3 L878.4 450.6 L878.5 450 L878.6 449.5 L878.7 449 L878.8 448.7 L878.9 448.5 L879 448.3 L879.1 448.3 L879.3 448.4 L879.4 448.6 L879.5 448.9 L879.6 449.4 L879.7 449.9 L879.8 450.6 L879.9 451.3 L880 452.2 L880.2 453.1 L880.3 454.1 L880.4 455.1 L880.5 456.2 L880.6 457.4 L880.7 458.5 L880.8 459.7 L880.9 460.8 L881.1 461.9 L881.2 463 L881.3 464.1 L881.4 465 L881.5 465.9 L881.6 466.7 L881.7 467.4 L881.9 467.9 L882 468.3 L882.1 468.6 L882.2 468.8 L882.3 468.8 L882.4 468.6 L882.5 468.3 L882.6 467.8 L882.8 467.2 L882.9 466.4 L883 465.5 L883.1 464.4 L883.2 463.2 L883.3 461.9 L883.4 460.5 L883.5 459 L883.7 457.4 L883.8 455.8 L883.9 454.1 L884 452.5 L884.1 450.8 L884.2 449.1 L884.3 447.5 L884.4 446 L884.6 444.5 L884.7 443.2 L884.8 442 L884.9 440.9 L885 439.9 L885.1 439.2 L885.2 438.6 L885.4 438.2 L885.5 438 L885.6 438 L885.7 438.2 L885.8 438.6 L885.9 439.3 L886 440.1 L886.1 441.2 L886.3 442.4 L886.4 443.8 L886.5 445.4 L886.6 447.1 L886.7 448.9 L886.8 450.8 L886.9 452.9 L887 454.9 L887.2 457 L887.3 459.1 L887.4 461.2 L887.5 463.3 L887.6 465.2 L887.7 467.1 L887.8 468.8 L888 470.4 L888.1 471.8 L888.2 473.1 L888.3 474.1 L888.4 474.8 L888.5 475.4 L888.6 475.6 L888.7 475.6 L888.9 475.4 L889 474.8 L889.1 474 L889.2 473 L889.3 471.6 L889.4 470 L889.5 468.2 L889.6 466.2 L889.8 464 L889.9 461.6 L890 459.1 L890.1 456.4 L890.2 453.7 L890.3 450.9 L890.4 448.1 L890.5 445.3 L890.7 442.6 L890.8 439.9 L890.9 437.4 L891 435 L891.1 432.7 L891.2 430.7 L891.3 429 L891.5 427.5 L891.6 426.2 L891.7 425.3 L891.8 424.7 L891.9 424.5 L892 424.5 L892.1 424.9 L892.2 425.7 L892.4 426.8 L892.5 428.2 L892.6 430 L892.7 432 L892.8 434.3 L892.9 436.9 L893 439.6 L893.1 442.6 L893.3 445.8 L893.4 449 L893.5 452.3 L893.6 455.7 L893.7 459.1 L893.8 462.4 L893.9 465.6 L894 468.8 L894.2 471.7 L894.3 474.4 L894.4 476.9 L894.5 479.1 L894.6 481 L894.7 482.6 L894.8 483.8 L895 484.6 L895.1 485 L895.2 485 L895.3 484.6 L895.4 483.8 L895.5 482.5 L895.6 480.9 L895.7 478.8 L895.9 476.4 L896 473.7 L896.1 470.6 L896.2 467.3 L896.3 463.7 L896.4 459.9 L896.5 456 L896.6 451.9 L896.8 447.8 L896.9 443.6 L897 439.5 L897.1 435.5 L897.2 431.6 L897.3 427.9 L897.4 424.5 L897.5 421.3 L897.7 418.4 L897.8 415.9 L897.9 413.7 L898 412 L898.1 410.8 L898.2 410 L898.3 409.6 L898.5 409.8 L898.6 410.5 L898.7 411.6 L898.8 413.2 L898.9 415.3 L899 417.8 L899.1 420.7 L899.2 424.1 L899.4 427.7 L899.5 431.7 L899.6 435.9 L899.7 440.3 L899.8 444.8 L899.9 449.5 L900 454.1 L900.1 458.8 L900.3 463.4 L900.4 467.9 L900.5 472.1 L900.6 476.1 L900.7 479.9 L900.8 483.2 L900.9 486.2 L901.1 488.8 L901.2 490.8 L901.3 492.4 L901.4 493.5 L901.5 494 L901.6 494 L901.7 493.4 L901.8 492.2 L902 490.5 L902.1 488.3 L902.2 485.6 L902.3 482.4 L902.4 478.8 L902.5 474.8 L902.6 470.4 L902.7 465.7 L902.9 460.8 L903 455.6 L903.1 450.4 L903.2 445.1 L903.3 439.7 L903.4 434.5 L903.5 429.4 L903.6 424.4 L903.8 419.7 L903.9 415.4 L904 411.4 L904.1 407.8 L904.2 404.7 L904.3 402 L904.4 400 L904.6 398.4 L904.7 397.5 L904.8 397.2 L904.9 397.4 L905 398.3 L905.1 399.8 L905.2 401.9 L905.3 404.5 L905.5 407.6 L905.6 411.3 L905.7 415.4 L905.8 419.9 L905.9 424.7 L906 429.8 L906.1 435.2 L906.2 440.7 L906.4 446.3 L906.5 451.9 L906.6 457.5 L906.7 463 L906.8 468.3 L906.9 473.3 L907 478.1 L907.1 482.4 L907.3 486.4 L907.4 489.8 L907.5 492.8 L907.6 495.2 L907.7 496.9 L907.8 498.1 L907.9 498.7 L908.1 498.6 L908.2 497.8 L908.3 496.5 L908.4 494.5 L908.5 491.9 L908.6 488.8 L908.7 485.1 L908.8 480.9 L909 476.3 L909.1 471.3 L909.2 466 L909.3 460.4 L909.4 454.7 L909.5 448.8 L909.6 442.8 L909.7 436.9 L909.9 431.1 L910 425.5 L910.1 420 L910.2 414.9 L910.3 410.1 L910.4 405.8 L910.5 401.9 L910.6 398.6 L910.8 395.8 L910.9 393.6 L911 392 L911.1 391.1 L911.2 390.8 L911.3 391.1 L911.4 392.1 L911.6 393.8 L911.7 396 L911.8 398.9 L911.9 402.3 L912 406.2 L912.1 410.5 L912.2 415.3 L912.3 420.4 L912.5 425.8 L912.6 431.4 L912.7 437.2 L912.8 443 L912.9 448.9 L913 454.7 L913.1 460.3 L913.2 465.7 L913.4 470.9 L913.5 475.7 L913.6 480.2 L913.7 484.2 L913.8 487.7 L913.9 490.6 L914 493 L914.2 494.8 L914.3 495.9 L914.4 496.4 L914.5 496.3 L914.6 495.5 L914.7 494.1 L914.8 492.1 L914.9 489.5 L915.1 486.3 L915.2 482.6 L915.3 478.5 L915.4 473.9 L915.5 469 L915.6 463.7 L915.7 458.2 L915.8 452.6 L916 446.8 L916.1 441 L916.2 435.2 L916.3 429.5 L916.4 424 L916.5 418.8 L916.6 413.8 L916.7 409.2 L916.9 405.1 L917 401.3 L917.1 398.1 L917.2 395.5 L917.3 393.4 L917.4 391.9 L917.5 391 L917.7 390.7 L917.8 391.1 L917.9 392 L918 393.6 L918.1 395.8 L918.2 398.4 L918.3 401.7 L918.4 405.3 L918.6 409.5 L918.7 413.9 L918.8 418.7 L918.9 423.8 L919 429 L919.1 434.4 L919.2 439.9 L919.3 445.3 L919.5 450.7 L919.6 455.9 L919.7 460.9 L919.8 465.7 L919.9 470.1 L920 474.2 L920.1 477.9 L920.2 481.1 L920.4 483.8 L920.5 485.9 L920.6 487.5 L920.7 488.6 L920.8 489 L920.9 488.9 L921 488.1 L921.2 486.9 L921.3 485 L921.4 482.6 L921.5 479.8 L921.6 476.4 L921.7 472.7 L921.8 468.6 L921.9 464.1 L922.1 459.4 L922.2 454.5 L922.3 449.5 L922.4 444.3 L922.5 439.2 L922.6 434.1 L922.7 429 L922.8 424.2 L923 419.6 L923.1 415.2 L923.2 411.2 L923.3 407.5 L923.4 404.2 L923.5 401.4 L923.6 399.1 L923.7 397.3 L923.9 396 L924 395.2 L924.1 395 L924.2 395.3 L924.3 396.2 L924.4 397.5 L924.5 399.4 L924.7 401.7 L924.8 404.5 L924.9 407.6 L925 411.1 L925.1 415 L925.2 419.1 L925.3 423.4 L925.4 427.8 L925.6 432.4 L925.7 437 L925.8 441.6 L925.9 446.1 L926 450.5 L926.1 454.7 L926.2 458.7 L926.3 462.4 L926.5 465.8 L926.6 468.9 L926.7 471.5 L926.8 473.7 L926.9 475.5 L927 476.8 L927.1 477.7 L927.2 478 L927.4 477.9 L927.5 477.3 L927.6 476.2 L927.7 474.7 L927.8 472.7 L927.9 470.3 L928 467.6 L928.2 464.5 L928.3 461.1 L928.4 457.5 L928.5 453.7 L928.6 449.7 L928.7 445.6 L928.8 441.4 L928.9 437.2 L929.1 433.1 L929.2 429.1 L929.3 425.2 L929.4 421.4 L929.5 417.9 L929.6 414.7 L929.7 411.8 L929.8 409.2 L930 406.9 L930.1 405.1 L930.2 403.7 L930.3 402.6 L930.4 402 L930.5 401.8 L930.6 402.1 L930.8 402.7 L930.9 403.8 L931 405.3 L931.1 407.1 L931.2 409.2 L931.3 411.7 L931.4 414.4 L931.5 417.4 L931.7 420.6 L931.8 423.9 L931.9 427.3 L932 430.9 L932.1 434.4 L932.2 437.9 L932.3 441.4 L932.4 444.7 L932.6 448 L932.7 451 L932.8 453.8 L932.9 456.4 L933 458.7 L933.1 460.7 L933.2 462.4 L933.3 463.7 L933.5 464.7 L933.6 465.3 L933.7 465.6 L933.8 465.4 L933.9 465 L934 464.1 L934.1 463 L934.3 461.5 L934.4 459.7 L934.5 457.6 L934.6 455.3 L934.7 452.8 L934.8 450.1 L934.9 447.2 L935 444.3 L935.2 441.2 L935.3 438.2 L935.4 435.1 L935.5 432 L935.6 429 L935.7 426.2 L935.8 423.4 L935.9 420.9 L936.1 418.5 L936.2 416.4 L936.3 414.5 L936.4 412.8 L936.5 411.5 L936.6 410.4 L936.7 409.7 L936.8 409.3 L937 409.1 L937.1 409.3 L937.2 409.8 L937.3 410.5 L937.4 411.5 L937.5 412.8 L937.6 414.3 L937.8 416.1 L937.9 418 L938 420.1 L938.1 422.4 L938.2 424.7 L938.3 427.1 L938.4 429.6 L938.5 432.1 L938.7 434.5 L938.8 436.9 L938.9 439.3 L939 441.5 L939.1 443.6 L939.2 445.6 L939.3 447.4 L939.4 448.9 L939.6 450.3 L939.7 451.5 L939.8 452.4 L939.9 453 L940 453.4 L940.1 453.6 L940.2 453.5 L940.3 453.1 L940.5 452.6 L940.6 451.7 L940.7 450.7 L940.8 449.5 L940.9 448.1 L941 446.5 L941.1 444.7 L941.3 442.9 L941.4 440.9 L941.5 438.9 L941.6 436.8 L941.7 434.8 L941.8 432.7 L941.9 430.6 L942 428.6 L942.2 426.6 L942.3 424.8 L942.4 423.1 L942.5 421.5 L942.6 420 L942.7 418.8 L942.8 417.7 L942.9 416.8 L943.1 416.1 L943.2 415.5 L943.3 415.2 L943.4 415.1 L943.5 415.2 L943.6 415.5 L943.7 416 L943.9 416.7 L944 417.5 L944.1 418.5 L944.2 419.6 L944.3 420.8 L944.4 422.2 L944.5 423.6 L944.6 425.1 L944.8 426.7 L944.9 428.3 L945 429.8 L945.1 431.4 L945.2 433 L945.3 434.4 L945.4 435.9 L945.5 437.2 L945.7 438.4 L945.8 439.6 L945.9 440.6 L946 441.4 L946.1 442.1 L946.2 442.7 L946.3 443.1 L946.4 443.3 L946.6 443.4 L946.7 443.3 L946.8 443.1 L946.9 442.7 L947 442.2 L947.1 441.5 L947.2 440.7 L947.4 439.8 L947.5 438.8 L947.6 437.7 L947.7 436.5 L947.8 435.3 L947.9 434 L948 432.7 L948.1 431.4 L948.3 430.1 L948.4 428.8 L948.5 427.5 L948.6 426.3 L948.7 425.2 L948.8 424.1 L948.9 423.1 L949 422.2 L949.2 421.4 L949.3 420.7 L949.4 420.1 L949.5 419.7 L949.6 419.3 L949.7 419.1 L949.8 419 L949.9 419.1 L950.1 419.2 L950.2 419.5 L950.3 419.9 L950.4 420.4 L950.5 421 L950.6 421.6 L950.7 422.3 L950.9 423.1 L951 424 L951.1 424.9 L951.2 425.8 L951.3 426.7 L951.4 427.6 L951.5 428.6 L951.6 429.5 L951.8 430.3 L951.9 431.2 L952 431.9 L952.1 432.6 L952.2 433.3 L952.3 433.9 L952.4 434.4 L952.5 434.8 L952.7 435.1 L952.8 435.3 L952.9 435.4 L953 435.5 L953.1 435.4 L953.2 435.2 L953.3 435 L953.4 434.7 L953.6 434.3 L953.7 433.8 L953.8 433.2 L953.9 432.6 L954 432 L954.1 431.3 L954.2 430.5 L954.4 429.8 L954.5 429 L954.6 428.2 L954.7 427.4 L954.8 426.7 L954.9 425.9 L955 425.2 L955.1 424.5 L955.3 423.9 L955.4 423.3 L955.5 422.7 L955.6 422.3 L955.7 421.8 L955.8 421.5 L955.9 421.2 L956 421 L956.2 420.9 L956.3 420.8 L956.4 420.8 L956.5 420.9 L956.6 421 L956.7 421.2 L956.8 421.4 L956.9 421.7 L957.1 422.1 L957.2 422.5 L957.3 422.9 L957.4 423.4 L957.5 423.8 L957.6 424.3 L957.7 424.8 L957.9 425.3 L958 425.8 L958.1 426.3 L958.2 426.8 L958.3 427.3 L958.4 427.7 L958.5 428.1 L958.6 428.4 L958.8 428.7 L958.9 429 L959 429.2 L959.1 429.3 L959.2 429.4 L959.3 429.5 L959.4 429.5 L959.5 429.4 L959.7 429.3 L959.8 429.2 L959.9 429 L960 428.7 L960.1 428.5 L960.2 428.1 L960.3 427.8 L960.5 427.4 L960.6 427 L960.7 426.6 L960.8 426.1 L960.9 425.7 L961 425.2 L961.1 424.8 L961.2 424.3 L961.4 423.9 L961.5 423.5 L961.6 423.1 L961.7 422.7 L961.8 422.3 L961.9 422 L962 421.7 L962.1 421.5 L962.3 421.3 L962.4 421.1 L962.5 420.9 L962.6 420.8 L962.7 420.8 L962.8 420.8 L962.9 420.8 L963 420.8 L963.2 420.9 L963.3 421 L963.4 421.2 L963.5 421.3 L963.6 421.5 L963.7 421.7 L963.8 422 L964 422.2 L964.1 422.5 L964.2 422.7 L964.3 423 L964.4 423.2 L964.5 423.5 L964.6 423.7 L964.7 423.9 L964.9 424.1 L965 424.3 L965.1 424.5 L965.2 424.7 L965.3 424.8 L965.4 424.9 L965.5 424.9 L965.6 425 L965.8 425 L965.9 425 L966 424.9 L966.1 424.9 L966.2 424.8 L966.3 424.6 L966.4 424.5 L966.5 424.3 L966.7 424.1 L966.8 423.9 L966.9 423.7 L967 423.4 L967.1 423.2 L967.2 422.9 L967.3 422.7 L967.5 422.4 L967.6 422.1 L967.7 421.9 L967.8 421.6 L967.9 421.3 L968 421.1 L968.1 420.9 L968.2 420.7 L968.4 420.5 L968.5 420.3 L968.6 420.1 L968.7 420 L968.8 419.8 L968.9 419.7 L969 419.7 L969.1 419.6 L969.3 419.6 L969.4 419.6 L969.5 419.6 L969.6 419.6 L969.7 419.6 L969.8 419.7 L969.9 419.7 L970 419.8 L970.2 419.9 L970.3 420 L970.4 420.1 L970.5 420.3 L970.6 420.4 L970.7 420.5 L970.8 420.6 L971 420.8 L971.1 420.9 L971.2 421 L971.3 421.1 L971.4 421.2 L971.5 421.2 L971.6 421.3 L971.7 421.4 L971.9 421.4 L972 421.4 L972.1 421.4 L972.2 421.4 L972.3 421.4 L972.4 421.4 L972.5 421.3 L972.6 421.2 L972.8 421.1 L972.9 421 L973 420.9 L973.1 420.8 L973.2 420.6 L973.3 420.5 L973.4 420.3 L973.6 420.2 L973.7 420 L973.8 419.8 L973.9 419.7 L974 419.5 L974.1 419.3 L974.2 419.2 L974.3 419 L974.5 418.8 L974.6 418.7 L974.7 418.5 L974.8 418.4 L974.9 418.3 L975 418.1 L975.1 418 L975.2 417.9 L975.4 417.9 L975.5 417.8 L975.6 417.7 L975.7 417.7 L975.8 417.7 L975.9 417.6 L976 417.6 L976.1 417.6 L976.3 417.7 L976.4 417.7 L976.5 417.7 L976.6 417.7 L976.7 417.8 L976.8 417.8 L976.9 417.9 L977.1 417.9 L977.2 418 L977.3 418.1 L977.4 418.1 L977.5 418.2 L977.6 418.2 L977.7 418.3 L977.8 418.3 L978 418.3 L978.1 418.3 L978.2 418.4 L978.3 418.4 L978.4 418.4 L978.5 418.4 L978.6 418.3 L978.7 418.3 L978.9 418.3 L979 418.2 L979.1 418.2 L979.2 418.1 L979.3 418 L979.4 417.9 L979.5 417.8 L979.6 417.7 L979.8 417.6 L979.9 417.5 L980 417.4 L980.1 417.3 L980.2 417.1 L980.3 417 L980.4 416.9 L980.6 416.8 L980.7 416.6 L980.8 416.5 L980.9 416.4 L981 416.3 L981.1 416.2 L981.2 416.1 L981.3 416 L981.5 415.9 L981.6 415.8 L981.7 415.7 L981.8 415.6 L981.9 415.6 L982 415.5 L982.1 415.5 L982.2 415.4 L982.4 415.4 L982.5 415.4 L982.6 415.4 L982.7 415.4 L982.8 415.4 L982.9 415.4 L983 415.4 L983.1 415.4 L983.3 415.4 L983.4 415.4 L983.5 415.4 L983.6 415.5 L983.7 415.5 L983.8 415.5 L983.9 415.5 L984.1 415.5 L984.2 415.5 L984.3 415.6 L984.4 415.6 L984.5 415.6 L984.6 415.6 L984.7 415.6 L984.8 415.5 L985 415.5 L985.1 415.5 L985.2 415.5 L985.3 415.4 L985.4 415.4 L985.5 415.3 L985.6 415.3 L985.7 415.2 L985.9 415.1 L986 415 L986.1 415 L986.2 414.9 L986.3 414.8 L986.4 414.7 L986.5 414.6 L986.7 414.5 L986.8 414.4 L986.9 414.3 L987 414.2 L987.1 414.1 L987.2 414 L987.3 413.9 L987.4 413.8 L987.6 413.7 L987.7 413.6 L987.8 413.5 L987.9 413.5 L988 413.4 L988.1 413.3 L988.2 413.3 L988.3 413.2 L988.5 413.1 L988.6 413.1 L988.7 413.1 L988.8 413 L988.9 413 L989 413 L989.1 412.9 L989.2 412.9 L989.4 412.9 L989.5 412.9 L989.6 412.9 L989.7 412.9 L989.8 412.9 L989.9 412.9 L990 412.9 L990.2 412.9 L990.3 412.9 L990.4 412.9 L990.5 412.9 L990.6 412.9 L990.7 412.9 L990.8 412.9 L990.9 412.9 L991.1 412.9 L991.2 412.8 L991.3 412.8 L991.4 412.8 L991.5 412.8 L991.6 412.7 L991.7 412.7 L991.8 412.6 L992 412.6 L992.1 412.5 L992.2 412.5 L992.3 412.4 L992.4 412.3 L992.5 412.3 L992.6 412.2 L992.7 412.1 L992.9 412 L993 412 L993.1 411.9 L993.2 411.8" stroke="#8b8787" stroke-width="1.5" fill="none" stroke-linejoin="round" stroke-opacity="0.9"/>
<polygon points="749,46 988.3,142.3 988.3,398.1 749,301.2" fill="#fff" stroke="none"/>
<g filter="url(#bl5)"><path d="M794 141 L884 141" stroke="#adadad" stroke-width="40" stroke-linecap="round" fill="none"/><path d="M886 152 L840 247" stroke="#adadad" stroke-width="50" stroke-linecap="round" fill="none"/></g>
<path d="M752 244.6 L986.8 339.4" stroke="#d8b08e" stroke-width="1.3" fill="none"/>
<polygon points="778.7,255.5 779.7,255.8 780.7,256.1 781.7,256.4 782.7,256.6 783.7,256.8 784.7,256.9 785.7,256.9 786.7,256.6 787.7,255.5 788.7,253.4 789.7,250.2 790.7,246.3 791.7,243.1 792.7,242.1 793.7,243.9 794.7,247.9 795.7,252.6 796.7,256.7 797.7,259.6 798.7,261.4 799.7,262.6 800.7,263.4 801.7,264.1 802.7,264.7 803.7,265.2 804.7,265.8 805.7,266.3 806.7,266.9 806.7,266.9 805.7,266.6 804.7,266.3 803.7,266 802.7,265.8 801.7,265.6 800.7,265.5 799.7,265.5 798.7,265.8 797.7,266.9 796.7,269 795.7,272.2 794.7,276.1 793.7,279.3 792.7,280.3 791.7,278.5 790.7,274.5 789.7,269.8 788.7,265.7 787.7,262.8 786.7,261 785.7,259.8 784.7,259 783.7,258.3 782.7,257.7 781.7,257.2 780.7,256.6 779.7,256.1 778.7,255.5" fill="#e8914a"/>
<polygon points="825.3,273.9 826.3,274.2 827.3,274.5 828.3,274.8 829.3,275 830.3,275.2 831.3,275.3 832.3,275.3 833.3,275 834.3,273.9 835.3,271.8 836.3,268.6 837.3,264.7 838.3,261.5 839.3,260.5 840.3,262.3 841.3,266.3 842.3,271 843.3,275.1 844.3,278 845.3,279.8 846.3,281 847.3,281.8 848.3,282.5 849.3,283.1 850.3,283.6 851.3,284.2 852.3,284.7 853.3,285.3 853.3,285.3 852.3,285 851.3,284.7 850.3,284.4 849.3,284.2 848.3,284 847.3,283.9 846.3,283.9 845.3,284.2 844.3,285.3 843.3,287.4 842.3,290.6 841.3,294.5 840.3,297.7 839.3,298.7 838.3,296.9 837.3,292.9 836.3,288.2 835.3,284.1 834.3,281.2 833.3,279.4 832.3,278.2 831.3,277.4 830.3,276.7 829.3,276.1 828.3,275.6 827.3,275 826.3,274.5 825.3,273.9" fill="#e8914a"/>
<polygon points="882.5,296.7 883.5,297 884.5,297.3 885.5,297.6 886.5,297.8 887.5,298 888.5,298.1 889.5,298.1 890.5,297.8 891.5,296.7 892.5,294.6 893.5,291.4 894.5,287.5 895.5,284.3 896.5,283.3 897.5,285.1 898.5,289.1 899.5,293.8 900.5,297.9 901.5,300.8 902.5,302.6 903.5,303.8 904.5,304.6 905.5,305.3 906.5,305.9 907.5,306.4 908.5,307 909.5,307.5 910.5,308.1 910.5,308.1 909.5,307.8 908.5,307.5 907.5,307.2 906.5,307 905.5,306.8 904.5,306.7 903.5,306.7 902.5,307 901.5,308.1 900.5,310.2 899.5,313.4 898.5,317.3 897.5,320.5 896.5,321.5 895.5,319.7 894.5,315.7 893.5,311 892.5,306.9 891.5,304 890.5,302.2 889.5,301 888.5,300.2 887.5,299.5 886.5,298.9 885.5,298.4 884.5,297.8 883.5,297.3 882.5,296.7" fill="#e8914a"/>
<polygon points="930.6,316.9 931.6,317.2 932.6,317.5 933.6,317.8 934.6,318 935.6,318.2 936.6,318.3 937.6,318.3 938.6,318 939.6,316.9 940.6,314.8 941.6,311.6 942.6,307.7 943.6,304.5 944.6,303.5 945.6,305.3 946.6,309.3 947.6,314 948.6,318.1 949.6,321 950.6,322.8 951.6,324 952.6,324.8 953.6,325.5 954.6,326.1 955.6,326.6 956.6,327.2 957.6,327.7 958.6,328.3 958.6,328.3 957.6,328 956.6,327.7 955.6,327.4 954.6,327.2 953.6,327 952.6,326.9 951.6,326.9 950.6,327.2 949.6,328.3 948.6,330.4 947.6,333.6 946.6,337.5 945.6,340.7 944.6,341.7 943.6,339.9 942.6,335.9 941.6,331.2 940.6,327.1 939.6,324.2 938.6,322.4 937.6,321.2 936.6,320.4 935.6,319.7 934.6,319.1 933.6,318.6 932.6,318 931.6,317.5 930.6,316.9" fill="#e8914a"/>
<g transform="translate(908.4,150) rotate(54.5)"><ellipse rx="46.7" ry="26" fill="url(#torG)" stroke="#c6c6c6" stroke-width="1"/><ellipse cx="-1" cy="1.5" rx="34" ry="14.5" fill="url(#torI)"/></g>
<path d="M791.2 154.4 L901 148.6 L828.6 249.6" stroke="#4f80d8" stroke-width="1.7" fill="none" stroke-linejoin="miter"/>
<polygon points="802.3,151.9 807.7,148.9 808.9,133.9 811.5,133.9 812.9,150.4 816.8,154.4" fill="#3d66b3"/>
<polygon points="833.3,150.3 838.7,147.3 839.9,133.9 842.5,133.9 843.9,148.8 847.8,152.8" fill="#3d66b3"/>
<polygon points="865.2,148.6 870.6,145.6 871.8,133.9 874.4,133.9 875.8,147.1 879.7,151.1" fill="#3d66b3"/>
<polygon points="875.8,169 881.2,166 882.4,149.5 885,149.5 886.4,167.5 890.3,171.5" fill="#3d66b3"/>
<polygon points="858.6,192.5 864,189.5 865.2,171.3 867.8,171.3 869.2,191 873.1,195" fill="#3d66b3"/>
<polygon points="840.3,218 845.7,215 846.9,194.7 849.5,194.7 850.9,216.5 854.8,220.5" fill="#3d66b3"/>
<polygon points="882.7,175.5 889.7,176.2 912.3,191 913.3,189.6 892.5,172.3 889.9,165.9" fill="#d0222a"/>
<polygon points="865.3,201.9 872.2,202.5 893.2,215.9 894.2,214.5 875.1,198.6 872.3,192.2" fill="#d0222a"/>
<polygon points="844.7,227.4 851.6,228.1 872.7,242.2 873.7,240.8 854.5,224.3 851.9,217.8" fill="#d0222a"/>
<polygon points="749,46 988.3,142.3 988.3,398.1 749,301.2" fill="none" stroke="#7b7575" stroke-width="4.2" stroke-linejoin="miter"/>
<polygon points="1028.4,148.4 1268.3,243.8 1268.3,499.6 1028.4,401.8" fill="#fff"/>
<path d="M1042.6 180.6 L1073 193 L1075.7 198.6 L1077.4 219.3 L1078.7 221.3 L1080 219.3 L1081.9 200 L1085.4 196.5 L1091.9 200.7 L1105.7 206.3 L1108.4 211.9 L1110.5 278 L1111.8 280 L1113.1 278 L1115.4 213.7 L1118.9 210.2 L1125.4 214.3 L1147.8 223.5 L1150.5 229.1 L1152.6 272 L1153.9 274 L1155.2 272 L1157.5 230.8 L1161 227.3 L1167.5 231.5 L1166.3 231 L1169 236.6 L1170.7 250.9 L1172 252.9 L1173.3 250.9 L1175.2 238 L1178.7 234.5 L1185.2 238.7 L1218.7 252.3 L1221.4 258 L1223.3 288.5 L1224.6 290.5 L1225.9 288.5 L1228 259.5 L1231.5 256.1 L1238 260.2 L1253.2 266.4" stroke="#4d82d3" stroke-width="3.8" fill="none" stroke-linejoin="round" stroke-linecap="butt"/>
<path d="M1062.2 416.1 L1070.7 404.1 L1077.6 399.9 L1081.8 402.4 L1084 413.5 L1086.9 395.6 L1096.3 373.4 L1108.3 352.9 L1113.4 350.4 L1117.7 354.6 L1121.6 399.9 L1125.4 347.8 L1130.5 337.6 L1139 334.1 L1147.5 336.7 L1154.4 344.4 L1158.6 358 L1162.1 399 L1165.5 364.9 L1168.9 359.7 L1174.9 366.6 L1180 378.5 L1183.9 402.4 L1186 389.6 L1190.2 389.6 L1197 400.7 L1210.7 424.6 L1222.7 448.5 L1231.2 467.3 L1235.5 486.1 L1237.2 474.1 L1242.3 475.8 L1254.2 492.9" stroke="#cc0a0a" stroke-width="4" fill="none" stroke-linejoin="round" stroke-linecap="round"/>
<path d="M1060 265 L1100 286" stroke="#2a2a2a" stroke-width="5" fill="none"/>
<ellipse cx="1057.6" cy="263" rx="11.5" ry="8.5" transform="rotate(45 1057.6 263)" fill="url(#mB)"/>
<ellipse cx="1083.2" cy="275.4" rx="11.5" ry="9.5" transform="rotate(35 1083.2 275.4)" fill="url(#mK)"/>
<ellipse cx="1103.5" cy="288" rx="11" ry="9" transform="rotate(35 1103.5 288)" fill="url(#mW)"/>
<ellipse cx="1167.5" cy="284" rx="6.5" ry="3.6" transform="rotate(35 1167.5 284)" fill="url(#mB)"/>
<ellipse cx="1180" cy="281" rx="6" ry="4.8" transform="rotate(10 1180 281)" fill="url(#mK)"/>
<ellipse cx="1191.5" cy="279.5" rx="7" ry="4.8" transform="rotate(10 1191.5 279.5)" fill="url(#mW)"/>
<path d="M1172 318 L1236 331" stroke="#2a2a2a" stroke-width="8" fill="none"/>
<ellipse cx="1168.9" cy="317" rx="18" ry="11.5" transform="rotate(42 1168.9 317)" fill="url(#mB)"/>
<ellipse cx="1206.4" cy="324" rx="18" ry="12.5" transform="rotate(45 1206.4 324)" fill="url(#mK)"/>
<ellipse cx="1241.4" cy="331.6" rx="17" ry="11.5" transform="rotate(40 1241.4 331.6)" fill="url(#mW)"/>
<polygon points="1028.4,148.4 1268.3,243.8 1268.3,499.6 1028.4,401.8" fill="none" stroke="#7b7575" stroke-width="4.2"/>
<text x="1" y="106.3" font-family="'Liberation Sans',sans-serif" font-weight="bold" font-size="60" fill="#000" textLength="74" lengthAdjust="spacingAndGlyphs">(a)</text>
<text x="1305" y="114.4" font-family="'Liberation Sans',sans-serif" font-weight="bold" font-size="60" fill="#000" textLength="76.5" lengthAdjust="spacingAndGlyphs">(b)</text>
<rect x="1583.9" y="377.2" width="93.3" height="19.5" fill="#878d99"/>
<rect x="1580.2" y="412.5" width="96.9" height="100.8" fill="#b3b3b3"/>
<path d="M1581 413.3 L1677.1 513.3" stroke="#6e6c6c" stroke-width="3.4" fill="none"/>
<rect x="1580.2" y="607" width="96.9" height="99.2" fill="#b3b3b3"/>
<path d="M1580.6 607.6 L1677.4 708" stroke="#6e6c6c" stroke-width="3.4" fill="none"/>
<path d="M1633.3 198.4 V458" stroke="#c9cfd8" stroke-width="3" fill="none"/>
<path d="M1632 463.5 H1914" stroke="#c9d3de" stroke-width="2.4" fill="none" opacity="0.8"/>
<path d="M1632 463 V656" stroke="#d9c4c4" stroke-width="2.4" fill="none" opacity="0.8"/>
<path d="M2219.5 462.3 H2479 M2482.6 459.5 V659 M2366 659.7 H2482 M1909.6 659.7 H2121" stroke="#d8d8d8" stroke-width="2.6" fill="none"/>
<path d="M1630 198.4 V460.7 H1915" stroke="#1f7ac8" stroke-width="4.4" fill="none" stroke-linejoin="miter"/>
<path d="M1649.6 200 V458" stroke="#c00f14" stroke-width="3.2" stroke-dasharray="3.1 1.9" fill="none"/>
<polygon points="1649.6,196.5 1646.6,203.5 1652.6,203.5" fill="#c00f14"/>
<path d="M1629.3 463 V656.4" stroke="#c8141b" stroke-width="4" fill="none"/>
<path d="M1377 656.4 H1884" stroke="#c8141b" stroke-width="4" fill="none"/>
<polygon points="1375.5,656.4 1383.5,652.6 1383.5,660.2" fill="#c8141b"/>
<path d="M1909.6 656.4 H2121.2 M2366.3 656.8 H2481.7 M2479.7 658.8 V459.5 M2481.7 459.5 H2219.5" stroke="#c8141b" stroke-width="4.2" fill="none"/>
<rect x="1514.7" y="106" width="259.4" height="91.6" rx="11" ry="11" fill="#fdf0e2" stroke="#2b2323" stroke-width="2.2"/>
<text x="1567.5" y="162.3" font-family="'Liberation Sans',sans-serif" font-size="36.5" fill="#000" textLength="151.5" lengthAdjust="spacingAndGlyphs" >DFB chip</text>
<g filter="url(#ds)"><ellipse cx="1632.4" cy="286.8" rx="73" ry="26" fill="#e5e5e6" stroke="#d2d2d4" stroke-width="1" stroke-dasharray="5 3"/></g>
<ellipse cx="1632.4" cy="284" rx="62" ry="14" fill="#b9c9f0"/>
<path d="M1571.4 286.5 A62 14 0 0 0 1693.4 286.5 A62 10.5 0 0 0 1571.4 286.5Z" fill="#99a6c6"/>
<path d="M1630 284 V297" stroke="#7f9ecf" stroke-width="4.4" fill="none" opacity="0.75"/>
<path d="M1649.6 273 V297" stroke="#c56d78" stroke-width="3.2" stroke-dasharray="3.1 1.9" fill="none" opacity="0.8"/>
<path d="M1630 250 V281.5" stroke="#1f7ac8" stroke-width="4.4" fill="none"/>
<path d="M1633.3 250 V281.5" stroke="#c9cfd8" stroke-width="2.2" fill="none"/>
<g filter="url(#ds)"><ellipse cx="1907.8" cy="655.8" rx="25.3" ry="72" fill="#e6e6e7" stroke="#d2d2d4" stroke-width="1" stroke-dasharray="5 3"/></g>
<ellipse cx="1911.5" cy="655.8" rx="12.5" ry="62" fill="#b9c9f0"/>
<path d="M1909.5 594 A12.5 62 0 0 0 1909.5 717.6 A9.5 62 0 0 0 1909.5 594Z" fill="#99a6c6"/>
<path d="M1897 656.4 H1903" stroke="#c56d78" stroke-width="3.6" fill="none" opacity="0.8"/>
<path d="M1909.6 656.4 H1940" stroke="#c8141b" stroke-width="4.2" fill="none"/>
<rect x="1912.9" y="389.5" width="277.6" height="143.4" fill="url(#ffB)"/>
<ellipse cx="2190.5" cy="461.2" rx="29" ry="71.7" fill="url(#ffB)"/>
<rect x="1924" y="446.5" width="266" height="30.1" fill="#a2aab8" opacity="0.75"/>
<path d="M2190.5 389.5 A29 71.7 0 0 0 2190.5 532.9" stroke="#b3b7bd" stroke-width="1.2" fill="none"/>
<ellipse cx="1912.9" cy="461.2" rx="29" ry="71.7" fill="url(#ffL)"/>
<path d="M1882 460.7 H1915" stroke="#2f79ba" stroke-width="4.2" fill="none" opacity="0.75"/>
<g filter="url(#bl2)"><ellipse cx="1916.7" cy="461.3" rx="6.2" ry="11" fill="#e0d978"/></g>
<g filter="url(#bl1)"><ellipse cx="2189.5" cy="461.2" rx="6.8" ry="14.3" fill="#cbd7e7"/></g>
<path d="M2456.4 422.3 L2521.3 486.8" stroke="#a1abb9" stroke-width="16.5" fill="none"/>
<path d="M2453.4 700.9 L2520 629.9" stroke="#a1abb9" stroke-width="17" fill="none"/>
<rect x="2122.2" y="597.8" width="243.4" height="112.6" rx="14" ry="14" fill="#fdf0e2" stroke="#2b2323" stroke-width="2.2"/>
<text x="2183.5" y="643.4" font-family="'Liberation Sans',sans-serif" font-size="37" fill="#000" textLength="114" lengthAdjust="spacingAndGlyphs" >Silicon</text>
<text x="2190.5" y="694.2" font-family="'Liberation Sans',sans-serif" font-size="37" fill="#000" textLength="100.5" lengthAdjust="spacingAndGlyphs" >Sheet</text>
<text x="1724.5" y="290.4" font-family="'Liberation Sans',sans-serif" font-size="36.5" fill="#000" textLength="89" lengthAdjust="spacingAndGlyphs" >HWP</text>
<text x="1702.5" y="396.2" font-family="'Liberation Sans',sans-serif" font-size="36.5" fill="#000" textLength="43" lengthAdjust="spacingAndGlyphs" >FR</text>
<text x="1478.8" y="473.8" font-family="'Liberation Sans',sans-serif" font-size="36.5" fill="#000" textLength="66" lengthAdjust="spacingAndGlyphs" >PBS</text>
<text x="1703.8" y="632.2" font-family="'Liberation Sans',sans-serif" font-size="36.5" fill="#000" textLength="66.5" lengthAdjust="spacingAndGlyphs" >PBS</text>
<text x="2244.3" y="427.2" font-family="'Liberation Sans',sans-serif" font-size="36.5" fill="#000" textLength="85.5" lengthAdjust="spacingAndGlyphs" >FFPR</text>
<text x="2523.8" y="444.3" font-family="'Liberation Sans',sans-serif" font-size="36.5" fill="#000" textLength="60" lengthAdjust="spacingAndGlyphs" >RM</text>
<text x="2525" y="698.6" font-family="'Liberation Sans',sans-serif" font-size="36.5" fill="#000" textLength="60" lengthAdjust="spacingAndGlyphs" >RM</text>
<text x="1955.8" y="627.6" font-family="'Liberation Sans',sans-serif" font-size="36.5" fill="#000" textLength="87.5" lengthAdjust="spacingAndGlyphs" >HWP</text>
<g filter="url(#bl4)" opacity="0.9"><path d="M1410.4 629.2 V654 M1424.4 614.9 V654 M1437.1 600.9 V654 M1450.7 587.2 V654 M1464.4 573.2 V654 M1477.7 566.1 V654 M1490.7 573.2 V654 M1503.4 587.2 V654 M1517.4 600.9 V654 M1531.4 614.9 V654 M1544.1 629.2 V654 " stroke="#999999" stroke-width="14" fill="none" stroke-linecap="round"/></g>
<g filter="url(#bl2)"><path d="M1395 656.4 H1560" stroke="#8a5a5a" stroke-width="8" fill="none" opacity="0.6"/></g>
<rect x="1408.1" y="626.2" width="4.6" height="28.2" fill="#c81420"/>
<rect x="1422.1" y="611.9" width="4.6" height="42.5" fill="#e82a32"/>
<rect x="1434.8" y="597.9" width="4.6" height="56.5" fill="#f0843f"/>
<rect x="1448.4" y="584.2" width="4.6" height="70.2" fill="#f8c221"/>
<rect x="1462.1" y="570.2" width="4.6" height="84.2" fill="#8fd04f"/>
<rect x="1475.4" y="563.1" width="4.6" height="91.3" fill="#20b14f"/>
<rect x="1488.4" y="570.2" width="4.6" height="84.2" fill="#8aa9e2"/>
<rect x="1501.1" y="584.2" width="4.6" height="70.2" fill="#2aa9e9"/>
<rect x="1515.1" y="597.9" width="4.6" height="56.5" fill="#1072c9"/>
<rect x="1529.1" y="611.9" width="4.6" height="42.5" fill="#7130a1"/>
<rect x="1541.8" y="626.2" width="4.6" height="28.2" fill="#04225f"/>
<path d="M1384 656.4 H1580" stroke="#c8141b" stroke-width="4" fill="none"/>
<clipPath id="cpA"><rect x="2056.1" y="69.2" width="454.9" height="280.6"/></clipPath>
<g clip-path="url(#cpA)"><g filter="url(#bl1)">
<rect x="2050" y="60" width="470" height="300" fill="url(#pgOuter)"/>
<rect x="2050" y="60" width="30" height="300" fill="#d6c634" opacity="0.75"/>
<rect x="2056" y="69" width="60" height="4" fill="#c4b81e"/>
<rect x="2121" y="69" width="312" height="4.5" fill="#ded6d0"/>
<rect x="2056" y="322" width="9" height="22" fill="#d9d6c0" opacity="0.8"/>
<g filter="url(#bl2)">
<rect x="2497" y="60" width="20" height="300" fill="#2b3013"/>
<rect x="2435" y="60" width="80" height="14" fill="#3a3414"/>
<rect x="2077.5" y="90.5" width="405" height="251" rx="17" ry="17" fill="url(#pgCav)"/>
<rect x="2100" y="93" width="380" height="30" fill="url(#pgTop)"/>
<rect x="2105" y="122" width="370" height="7" fill="#3e2c12" opacity="0.8"/>
<rect x="2411" y="125" width="70" height="200" fill="url(#pgRight)"/>
<rect x="2448" y="130" width="14" height="150" fill="#5a3208" opacity="0.55"/>
<rect x="2418" y="230" width="10" height="60" fill="#5a3208" opacity="0.5"/>
<path d="M2416 240 Q2440 260 2450 290 M2430 215 Q2460 240 2470 285" stroke="#e8c860" stroke-width="3" fill="none" opacity="0.6"/>
<rect x="2168" y="281" width="314" height="58" fill="url(#pgBot)"/>
<rect x="2090" y="281" width="80" height="58" fill="#553a18" opacity="0.95"/>
</g>
<g filter="url(#bl1)">
<rect x="2128.5" y="129.5" width="282.5" height="152" fill="url(#pgPlat)"/>
<rect x="2128.5" y="129.5" width="60" height="152" fill="url(#pgPlatL)"/>
<rect x="2230" y="129.5" width="181" height="45" fill="#b9b9c6" opacity="0.55"/>
<rect x="2128.5" y="255" width="282.5" height="26.6" fill="#b0b0a6" opacity="0.6"/>
</g>
<g filter="url(#bl2)">
<ellipse cx="2158" cy="106" rx="9" ry="11" fill="#4a3414" opacity="0.85"/>
<ellipse cx="2152" cy="106.5" rx="4.2" ry="5" fill="#cdb462" opacity="0.9"/>
<ellipse cx="2154" cy="296" rx="10" ry="9" fill="#f2e060" opacity="0.5"/>
<ellipse cx="2152" cy="316" rx="10" ry="3.6" fill="#3c2a0c" opacity="0.9"/>
<rect x="2149" y="300" width="6" height="14" fill="#b89038" opacity="0.8"/>
<ellipse cx="2200.8" cy="106" rx="9" ry="11" fill="#4a3414" opacity="0.85"/>
<ellipse cx="2194.8" cy="106.5" rx="4.2" ry="5" fill="#cdb462" opacity="0.9"/>
<ellipse cx="2196.8" cy="296" rx="10" ry="9" fill="#f2e060" opacity="0.5"/>
<ellipse cx="2194.8" cy="316" rx="10" ry="3.6" fill="#3c2a0c" opacity="0.9"/>
<rect x="2191.8" y="300" width="6" height="14" fill="#b89038" opacity="0.8"/>
<ellipse cx="2243.6" cy="106" rx="9" ry="11" fill="#4a3414" opacity="0.85"/>
<ellipse cx="2237.6" cy="106.5" rx="4.2" ry="5" fill="#cdb462" opacity="0.9"/>
<ellipse cx="2239.6" cy="296" rx="10" ry="9" fill="#f2e060" opacity="0.5"/>
<ellipse cx="2237.6" cy="316" rx="10" ry="3.6" fill="#3c2a0c" opacity="0.9"/>
<rect x="2234.6" y="300" width="6" height="14" fill="#b89038" opacity="0.8"/>
<ellipse cx="2286.4" cy="106" rx="9" ry="11" fill="#4a3414" opacity="0.85"/>
<ellipse cx="2280.4" cy="106.5" rx="4.2" ry="5" fill="#cdb462" opacity="0.9"/>
<ellipse cx="2282.4" cy="296" rx="10" ry="9" fill="#f2e060" opacity="0.5"/>
<ellipse cx="2280.4" cy="316" rx="10" ry="3.6" fill="#3c2a0c" opacity="0.9"/>
<rect x="2277.4" y="300" width="6" height="14" fill="#b89038" opacity="0.8"/>
<ellipse cx="2329.2" cy="106" rx="9" ry="11" fill="#4a3414" opacity="0.85"/>
<ellipse cx="2323.2" cy="106.5" rx="4.2" ry="5" fill="#cdb462" opacity="0.9"/>
<ellipse cx="2325.2" cy="296" rx="10" ry="9" fill="#f2e060" opacity="0.5"/>
<ellipse cx="2323.2" cy="316" rx="10" ry="3.6" fill="#3c2a0c" opacity="0.9"/>
<rect x="2320.2" y="300" width="6" height="14" fill="#b89038" opacity="0.8"/>
<ellipse cx="2372" cy="106" rx="9" ry="11" fill="#4a3414" opacity="0.85"/>
<ellipse cx="2366" cy="106.5" rx="4.2" ry="5" fill="#cdb462" opacity="0.9"/>
<ellipse cx="2368" cy="296" rx="10" ry="9" fill="#f2e060" opacity="0.5"/>
<ellipse cx="2366" cy="316" rx="10" ry="3.6" fill="#3c2a0c" opacity="0.9"/>
<rect x="2363" y="300" width="6" height="14" fill="#b89038" opacity="0.8"/>
<ellipse cx="2414.8" cy="106" rx="9" ry="11" fill="#4a3414" opacity="0.85"/>
<ellipse cx="2408.8" cy="106.5" rx="4.2" ry="5" fill="#cdb462" opacity="0.9"/>
<ellipse cx="2410.8" cy="296" rx="10" ry="9" fill="#f2e060" opacity="0.5"/>
<ellipse cx="2408.8" cy="316" rx="10" ry="3.6" fill="#3c2a0c" opacity="0.9"/>
<rect x="2405.8" y="300" width="6" height="14" fill="#b89038" opacity="0.8"/>
</g>
<g filter="url(#bl13)">
<g filter="url(#bl5)"><ellipse cx="2145" cy="206" rx="12" ry="16" fill="#3fb08a" opacity="0.8"/><ellipse cx="2367" cy="212" rx="16" ry="24" fill="#52c466" opacity="0.85"/></g>
<rect x="2176" y="160" width="46" height="96" fill="#a9adb4" opacity="0.9"/>
<rect x="2180" y="180" width="34" height="42" fill="#b9bdc6"/>
<rect x="2180" y="174" width="34" height="7" fill="#3c5a7c"/>
<rect x="2180" y="226" width="34" height="30" fill="#c2c4cc"/>
<rect x="2186" y="158" width="20" height="7" fill="#8fb0d8"/>
<rect x="2222" y="225" width="18" height="30" fill="#aeaeb6"/><rect x="2222" y="188" width="16" height="22" fill="#8d8f98"/>
<path d="M2174 165 V256 M2222 160 V256 M2176 220 H2240" stroke="#cfd2d8" stroke-width="1.4" fill="none" opacity="0.8"/>
<rect x="2176" y="134" width="36" height="26" fill="#cdb64c"/><rect x="2184" y="136" width="5" height="20" fill="#7a6a30"/><rect x="2196" y="136" width="5" height="20" fill="#7a6a30"/>
<g filter="url(#bl4)"><rect x="2262" y="214" width="70" height="36" fill="#77776c" opacity="0.8"/></g>
<rect x="2262" y="217" width="15" height="38" fill="#1c1c20"/><rect x="2266" y="232" width="7" height="10" fill="#c8c8c8"/><rect x="2267.6" y="234" width="3.6" height="6" fill="#222"/>
<rect x="2245.6" y="176.7" width="92.4" height="40" rx="7" ry="7" fill="url(#pgCyl)"/>
<rect x="2270" y="186" width="26" height="22" fill="#d4d4f2" opacity="0.55"/><rect x="2298" y="180" width="28" height="30" fill="#e9ecd0" opacity="0.45"/>
<rect x="2339" y="194" width="12" height="5" fill="#b9bdb0"/>
<g transform="translate(2151,234) rotate(-38)"><rect x="-18" y="-9.5" width="36" height="19" fill="#bac6dc"/><rect x="-18" y="-9.5" width="36" height="6.6" fill="#dfe6f0"/></g>
<g transform="translate(2153,279) rotate(42)"><rect x="-18" y="-10.5" width="36" height="21" fill="#c2c6de"/><rect x="-18" y="-10.5" width="36" height="7.3" fill="#dde2ee"/></g>
<g transform="translate(2387,190.5) rotate(40)"><rect x="-18" y="-9.5" width="36" height="19" fill="#cfd0d8"/><rect x="-18" y="-9.5" width="36" height="6.6" fill="#e8e8ec"/></g>
<g transform="translate(2387,238) rotate(-38)"><rect x="-18" y="-10" width="36" height="20" fill="#d6bcd6"/><rect x="-18" y="-10" width="36" height="7" fill="#ece0ea"/></g>
<rect x="2416" y="181" width="24" height="34" fill="#cfc4a4"/><rect x="2420" y="186" width="6" height="24" fill="#8e7a4c"/><rect x="2430" y="186" width="6" height="24" fill="#a89060"/><rect x="2410" y="192" width="7" height="12" fill="#6a5a3a"/>
</g>
</g></g>
<clipPath id="cpB"><rect x="1334.9" y="799.4" width="662.8" height="439.4"/></clipPath>
<g clip-path="url(#cpB)">
<rect x="1330" y="795" width="672" height="448" fill="#191919"/>
<rect x="1330" y="795" width="672" height="448" fill="url(#pbBg)"/>
<g filter="url(#bl1)">
<path d="M1330 824.5 L1472.5 859.2" stroke="#d9d9d9" stroke-width="7.5" fill="none"/>
<path d="M1330 826.5 L1472.5 861.2" stroke="#a9a9a9" stroke-width="2.5" fill="none"/>
<path d="M1472 859 L1520 868 L1590 890" stroke="#2c2c2e" stroke-width="19" fill="none" stroke-linecap="round" stroke-linejoin="round"/>
<path d="M1476 855 L1520 863 L1575 879" stroke="#55555a" stroke-width="4" fill="none" stroke-linecap="round" opacity="0.8"/>
<g filter="url(#bl7)"><polygon points="1540,985 1720,1050 1860,1075 1930,1000 1800,1040 1580,960" fill="#2e2a26" opacity="0.9"/></g>
<polygon points="1529.6,943.4 1550,922.9 1578,927.5 1578,961 1552.4,968" fill="#b9ad9a"/>
<polygon points="1529.6,943.4 1552.4,966.2 1552.4,972 1529.6,949" fill="#7a6e5e"/>
<ellipse cx="1556.9" cy="938.8" rx="11" ry="6.6" fill="#201c18"/>
<polygon points="1850,946 1918.8,973 1916.5,993.5 1896,1011.7 1815,985" fill="#b4a894"/>
<polygon points="1815,985 1896,1011.7 1916.5,993.5 1916.5,1001 1896,1020 1815,993" fill="#6e6456"/>
<ellipse cx="1886.9" cy="975.3" rx="14" ry="8.4" fill="#2a2622"/><ellipse cx="1886.9" cy="977" rx="10" ry="5.6" fill="#121212"/>
<polygon points="1795,1000 1875.5,1025.3 1873.3,1041.3 1850.5,1057.2 1793.6,1031" fill="#b6aa96"/>
<polygon points="1793.6,1031 1850.5,1057.2 1873.3,1041.3 1873.3,1048 1850.5,1064 1793.6,1038" fill="#6e6456"/>
<ellipse cx="1839.1" cy="1029.9" rx="14" ry="8.6" fill="#2a2622"/><ellipse cx="1839.1" cy="1031.5" rx="10" ry="5.8" fill="#121212"/>
<path d="M1723.1 826.2 L1702.6 843.2" stroke="#d79a1c" stroke-width="7" stroke-linecap="round" fill="none"/>
<path d="M1722.3 825.4 L1701.8 842.4" stroke="#f3c043" stroke-width="2.6" stroke-linecap="round" fill="none"/>
<path d="M1748.1 831.9 L1725.3 848.9" stroke="#d79a1c" stroke-width="7" stroke-linecap="round" fill="none"/>
<path d="M1747.3 831.1 L1724.5 848.1" stroke="#f3c043" stroke-width="2.6" stroke-linecap="round" fill="none"/>
<path d="M1773.1 838.7 L1750.4 856.9" stroke="#d79a1c" stroke-width="7" stroke-linecap="round" fill="none"/>
<path d="M1772.3 837.9 L1749.6 856.1" stroke="#f3c043" stroke-width="2.6" stroke-linecap="round" fill="none"/>
<path d="M1800.4 846.7 L1778.8 863.7" stroke="#d79a1c" stroke-width="7" stroke-linecap="round" fill="none"/>
<path d="M1799.6 845.9 L1778 862.9" stroke="#f3c043" stroke-width="2.6" stroke-linecap="round" fill="none"/>
<path d="M1826.6 853.5 L1806.1 870.6" stroke="#d79a1c" stroke-width="7" stroke-linecap="round" fill="none"/>
<path d="M1825.8 852.7 L1805.3 869.8" stroke="#f3c043" stroke-width="2.6" stroke-linecap="round" fill="none"/>
<path d="M1853.9 861.5 L1833.4 879.7" stroke="#d79a1c" stroke-width="7" stroke-linecap="round" fill="none"/>
<path d="M1853.1 860.7 L1832.6 878.9" stroke="#f3c043" stroke-width="2.6" stroke-linecap="round" fill="none"/>
<path d="M1882.4 868.3 L1861.9 887.6" stroke="#d79a1c" stroke-width="7" stroke-linecap="round" fill="none"/>
<path d="M1881.6 867.5 L1861.1 886.8" stroke="#f3c043" stroke-width="2.6" stroke-linecap="round" fill="none"/>
<polygon points="1645.7,831.9 1864.2,891 1795.9,959.3 1576.2,897.9" fill="url(#pbTop)"/>
<polygon points="1576.2,897.9 1795.9,959.3 1793.6,1029.9 1576.2,957" fill="url(#pbFront)"/>
<polygon points="1795.9,959.3 1864.2,891 1864.2,945.7 1793.6,1029.9" fill="url(#pbRight)"/>
<path d="M1795.9 959.3 L1864.2 891" stroke="#c9c0d0" stroke-width="1.2" fill="none" opacity="0.8"/>
<g filter="url(#bl5)">
<ellipse cx="1608" cy="922" rx="9" ry="12" fill="#b87a50" opacity="0.85"/>
<ellipse cx="1634" cy="930" rx="9" ry="12" fill="#b87a50" opacity="0.85"/>
<ellipse cx="1661" cy="938" rx="9" ry="12" fill="#e2a23a" opacity="0.85"/>
<ellipse cx="1688" cy="947" rx="9" ry="12" fill="#e2a23a" opacity="0.85"/>
<ellipse cx="1716" cy="956" rx="9" ry="12" fill="#e2a23a" opacity="0.85"/>
<ellipse cx="1745" cy="965" rx="9" ry="12" fill="#e2a23a" opacity="0.85"/>
<ellipse cx="1772" cy="973" rx="9" ry="12" fill="#e2a23a" opacity="0.85"/>
</g>
<g transform="translate(1659,878) rotate(15.6) skewX(-38)"><path d="M-17 -11 H17 V3 Q17 12 0 14 Q-17 12 -17 3Z" fill="#e9e1d2"/><path d="M-9 -6 L8 -6 L-2 7Z" fill="#5c554e"/></g>
<g transform="translate(1664,871) rotate(15.6) skewX(-38)" opacity="0.4"><path d="M-26 -30 Q0 -40 30 -28 V6 Q20 26 0 30 Q-26 24 -26 -30Z" fill="none" stroke="#d9d1c2" stroke-width="1.1" stroke-dasharray="2 1.6"/></g>
<text transform="translate(1688,894) rotate(16.5) skewX(-36)" font-family="'Liberation Serif','Noto Serif CJK SC',serif" font-size="27" fill="#ddd5c6" fill-opacity="0.72" textLength="132" lengthAdjust="spacingAndGlyphs">南京大学</text>
<text transform="translate(1679,909) rotate(15.6) skewX(-38)" font-family="'Liberation Sans',sans-serif" font-size="9" fill="#bdb5a6" fill-opacity="0.42" textLength="102" lengthAdjust="spacingAndGlyphs">NANJING UNIVERSITY</text>
<path d="M1603.6 932 L1548.9 990.1" stroke="#b38f45" stroke-width="2.2" stroke-linecap="round" fill="none"/>
<ellipse cx="1606.1" cy="929.5" rx="4.4" ry="3.2" fill="#1e1a14"/>
<path d="M1627.5 941.1 L1572.8 1000.3" stroke="#e2321e" stroke-width="6" stroke-linecap="round" fill="none"/>
<path d="M1626.5 940.5 L1571.8 999.7" stroke="#ff6a4a" stroke-width="2.2" stroke-linecap="round" fill="none"/>
<ellipse cx="1630" cy="938.6" rx="4.4" ry="3.2" fill="#1e1a14"/>
<path d="M1654.8 950.2 L1600.1 1007.1" stroke="#dca21e" stroke-width="6.4" stroke-linecap="round" fill="none"/>
<path d="M1653.8 949.6 L1599.1 1006.5" stroke="#f6cf52" stroke-width="2.2" stroke-linecap="round" fill="none"/>
<ellipse cx="1657.3" cy="947.7" rx="4.4" ry="3.2" fill="#1e1a14"/>
<path d="M1682.1 959.3 L1627.5 1016.2" stroke="#dca21e" stroke-width="6.4" stroke-linecap="round" fill="none"/>
<path d="M1681.1 958.7 L1626.5 1015.6" stroke="#f6cf52" stroke-width="2.2" stroke-linecap="round" fill="none"/>
<ellipse cx="1684.6" cy="956.8" rx="4.4" ry="3.2" fill="#1e1a14"/>
<path d="M1709.4 968.4 L1657 1024.2" stroke="#dca21e" stroke-width="6.4" stroke-linecap="round" fill="none"/>
<path d="M1708.4 967.8 L1656 1023.6" stroke="#f6cf52" stroke-width="2.2" stroke-linecap="round" fill="none"/>
<ellipse cx="1711.9" cy="965.9" rx="4.4" ry="3.2" fill="#1e1a14"/>
<path d="M1739 977.5 L1686.6 1034.4" stroke="#dca21e" stroke-width="6.4" stroke-linecap="round" fill="none"/>
<path d="M1738 976.9 L1685.6 1033.8" stroke="#f6cf52" stroke-width="2.2" stroke-linecap="round" fill="none"/>
<ellipse cx="1741.5" cy="975" rx="4.4" ry="3.2" fill="#1e1a14"/>
<path d="M1766.3 984.4 L1715.1 1045.8" stroke="#dca21e" stroke-width="6.4" stroke-linecap="round" fill="none"/>
<path d="M1765.3 983.8 L1714.1 1045.2" stroke="#f6cf52" stroke-width="2.2" stroke-linecap="round" fill="none"/>
<ellipse cx="1768.8" cy="981.9" rx="4.4" ry="3.2" fill="#1e1a14"/>
<path d="M1560 956 L1795 1035" stroke="#8a8276" stroke-width="1.1" fill="none" opacity="0.8"/>
<g filter="url(#bl4)"><ellipse cx="1540" cy="1150" rx="134" ry="84" fill="#0c0c0c"/></g>
<ellipse cx="1533" cy="1138" rx="125.4" ry="76" fill="#55535a"/>
<path d="M1407.6 1124 A125.4 75.2 0 0 0 1658.4 1124 L1658.4 1138 A125.4 76 0 0 1 1407.6 1138Z" fill="url(#pbEdge)"/>
<ellipse cx="1533" cy="1123.8" rx="125.4" ry="75.2" fill="url(#pbCoin)"/>
<ellipse cx="1533" cy="1123.8" rx="124" ry="74" fill="none" stroke="#aaa8b0" stroke-width="2.2" opacity="0.85"/>
<ellipse cx="1533" cy="1124.3" rx="117" ry="69.5" fill="none" stroke="#2c2c30" stroke-width="1.2" opacity="0.7"/>
<g transform="translate(1533,1123.8) scale(1,0.6) rotate(-60)" fill="#a9a7af" font-family="'Liberation Sans','Noto Sans CJK SC',sans-serif" text-anchor="middle">
<text transform="translate(-100.4,-23.2) rotate(-77)" font-size="29" font-weight="bold" fill-opacity="0.8" y="10">中</text>
<text transform="translate(-74.1,-71.5) rotate(-46)" font-size="29" font-weight="bold" fill-opacity="0.8" y="10">国</text>
<text transform="translate(-26.7,-99.5) rotate(-15)" font-size="29" font-weight="bold" fill-opacity="0.8" y="10">人</text>
<text transform="translate(28.4,-99) rotate(16)" font-size="29" font-weight="bold" fill-opacity="0.8" y="10">民</text>
<text transform="translate(75.3,-70.2) rotate(47)" font-size="29" font-weight="bold" fill-opacity="0.8" y="10">银</text>
<text transform="translate(101.1,-19.7) rotate(79)" font-size="29" font-weight="bold" fill-opacity="0.8" y="10">行</text>
<text x="-3" y="52" font-size="196" font-weight="bold" fill="#66646b" stroke="#a5a3ab" stroke-width="1.6" textLength="94" lengthAdjust="spacingAndGlyphs">1</text>
<text x="70" y="62" font-size="52" fill="#aaa0ba" fill-opacity="0.85">角</text>
<text x="-84" y="30" font-size="21" fill-opacity="0.9">YI</text>
<text x="-84" y="52" font-size="21" fill-opacity="0.9">JIAO</text>
<text x="-14" y="108" font-size="30" fill-opacity="0.9" textLength="70" lengthAdjust="spacingAndGlyphs">2017</text>
</g>
</g>
<rect x="1798.3" y="1179" width="122.7" height="10.5" fill="#fff"/>
<text x="1806.5" y="1167.8" font-family="'Liberation Sans',sans-serif" font-size="42" fill="#fff" textLength="120" lengthAdjust="spacingAndGlyphs">10mm</text>
</g>
<clipPath id="cpC"><rect x="2025.1" y="799.4" width="582.7" height="436.2"/></clipPath>
<g clip-path="url(#cpC)">
<rect x="2020" y="795" width="592" height="446" fill="#121217"/>
<rect x="2020" y="795" width="592" height="446" fill="url(#pcBg)"/>
<g filter="url(#bl1)">
<polygon points="2126.1,966 2612,1070 2612,1245 2015,1245 2015,1124" fill="url(#pcRul)"/>
<path d="M2267.2 997.4 L2187.4 1132.7 M2408.9 1027.8 L2315.9 1212.9 M2565.3 1061.3 L2506.8 1204.6 M2135.6 969.2 L2089.8 1037.2 M2151 972.5 L2093.4 1059.3 M2166.4 975.8 L2121.4 1044.7 M2181.9 979.2 L2125.4 1066.9 M2197.4 982.5 L2153.2 1052.2 M2212.9 985.8 L2157.5 1074.6 M2228.4 989.1 L2185.1 1059.7 M2244 992.5 L2189.7 1082.3 M2275.2 999.1 L2222.1 1089.9 M2290.8 1002.5 L2249.3 1074.7 M2306.5 1005.8 L2254.6 1097.6 M2322.1 1009.2 L2281.5 1082.3 M2337.8 1012.6 L2287.2 1105.4 M2353.6 1015.9 L2313.9 1089.8 M2369.3 1019.3 L2319.9 1113.1 M2385.1 1022.7 L2346.5 1097.4 M2400.9 1026.1 L2352.8 1120.8 M2432.5 1032.8 L2385.8 1128.6 M2448.4 1036.2 L2411.9 1112.6 M2464.3 1039.6 L2419 1136.4 M2480.2 1043 L2444.8 1120.2 M2496.1 1046.5 L2452.3 1144.1 M2512.1 1049.9 L2477.8 1127.9 M2528.1 1053.3 L2485.7 1151.9 M2544.1 1056.7 L2510.9 1135.5 M2576.2 1063.6 L2544.2 1143.2 M2592.3 1067.1 L2552.9 1167.5 M2608.4 1070.5 L2577.6 1150.8 " stroke="#7c7c7c" stroke-width="2.4" fill="none" stroke-linecap="round" transform="translate(3.4,1)" opacity="0.55"/>
<path d="M2267.2 997.4 L2187.4 1132.7 M2408.9 1027.8 L2315.9 1212.9 M2565.3 1061.3 L2506.8 1204.6 M2135.6 969.2 L2089.8 1037.2 M2151 972.5 L2093.4 1059.3 M2166.4 975.8 L2121.4 1044.7 M2181.9 979.2 L2125.4 1066.9 M2197.4 982.5 L2153.2 1052.2 M2212.9 985.8 L2157.5 1074.6 M2228.4 989.1 L2185.1 1059.7 M2244 992.5 L2189.7 1082.3 M2275.2 999.1 L2222.1 1089.9 M2290.8 1002.5 L2249.3 1074.7 M2306.5 1005.8 L2254.6 1097.6 M2322.1 1009.2 L2281.5 1082.3 M2337.8 1012.6 L2287.2 1105.4 M2353.6 1015.9 L2313.9 1089.8 M2369.3 1019.3 L2319.9 1113.1 M2385.1 1022.7 L2346.5 1097.4 M2400.9 1026.1 L2352.8 1120.8 M2432.5 1032.8 L2385.8 1128.6 M2448.4 1036.2 L2411.9 1112.6 M2464.3 1039.6 L2419 1136.4 M2480.2 1043 L2444.8 1120.2 M2496.1 1046.5 L2452.3 1144.1 M2512.1 1049.9 L2477.8 1127.9 M2528.1 1053.3 L2485.7 1151.9 M2544.1 1056.7 L2510.9 1135.5 M2576.2 1063.6 L2544.2 1143.2 M2592.3 1067.1 L2552.9 1167.5 M2608.4 1070.5 L2577.6 1150.8 " stroke="#1b1b1b" stroke-width="3" fill="none" stroke-linecap="round"/>
<circle cx="2091" cy="1066" r="2" fill="#9a9a9a" opacity="0.8"/>
<circle cx="2176" cy="1077" r="1.6" fill="#9a9a9a" opacity="0.8"/>
<circle cx="2246" cy="1138" r="1.8" fill="#9a9a9a" opacity="0.8"/>
<circle cx="2268" cy="1198" r="1.8" fill="#9a9a9a" opacity="0.8"/>
<circle cx="2341" cy="1167" r="1.6" fill="#9a9a9a" opacity="0.8"/>
<circle cx="2275" cy="1087" r="1.4" fill="#9a9a9a" opacity="0.8"/>
<circle cx="2492" cy="1089" r="1.6" fill="#9a9a9a" opacity="0.8"/>
<circle cx="2035" cy="1096" r="1.5" fill="#9a9a9a" opacity="0.8"/>
<circle cx="2113" cy="972" r="1.5" fill="#9a9a9a" opacity="0.8"/>
<circle cx="2352" cy="1176" r="1.4" fill="#9a9a9a" opacity="0.8"/>
<g filter="url(#bl5)"><ellipse cx="2268" cy="940" rx="84" ry="16" transform="rotate(11.3 2268 940)" fill="#050505"/></g>
<g transform="translate(2267,897.5) rotate(11.3)">
<path d="M-72 -40 H60 Q93 -34 93 2 Q92 34 62 40 H-75 Q-93 38 -93 0 Q-93 -38 -72 -40Z" fill="url(#pcCap)"/>
<g filter="url(#bl2)"><path d="M60 -38 Q91 -33 91 2 Q90 33 62 38 Q70 0 60 -38Z" fill="#cfd4f6" opacity="0.9"/></g>
<path d="M86 -20 Q93 -8 93 2 Q92 20 84 30 Q89 4 86 -20Z" fill="#d6ecc8" opacity="0.6"/>
<path d="M55 -40 Q65 0 55 40" stroke="#f4f4ee" stroke-width="2.5" fill="none" opacity="0.8"/>
<g filter="url(#bl4)"><ellipse cx="12" cy="-27" rx="26" ry="8" fill="#b9bdf6" opacity="0.95"/></g>
<g filter="url(#bl2)"><path d="M-86 -12 H52" stroke="#fbfaf2" stroke-width="6" fill="none" opacity="0.6"/></g>
</g>
<g filter="url(#bl6)"><ellipse cx="2361" cy="979" rx="21" ry="30" transform="rotate(14 2361 979)" fill="#5747dc" opacity="0.9"/></g>
<g filter="url(#bl4)"><ellipse cx="2357" cy="972" rx="10" ry="16" transform="rotate(14 2357 972)" fill="#6a56f0" opacity="0.6"/></g>
</g>
<rect x="2413.7" y="1178.4" width="123.5" height="11.2" fill="#fff"/>
<text x="2428" y="1168" font-family="'Liberation Sans',sans-serif" font-size="42" fill="#fff" textLength="97" lengthAdjust="spacingAndGlyphs">5mm</text>
</g>
</svg>
</body></html>
